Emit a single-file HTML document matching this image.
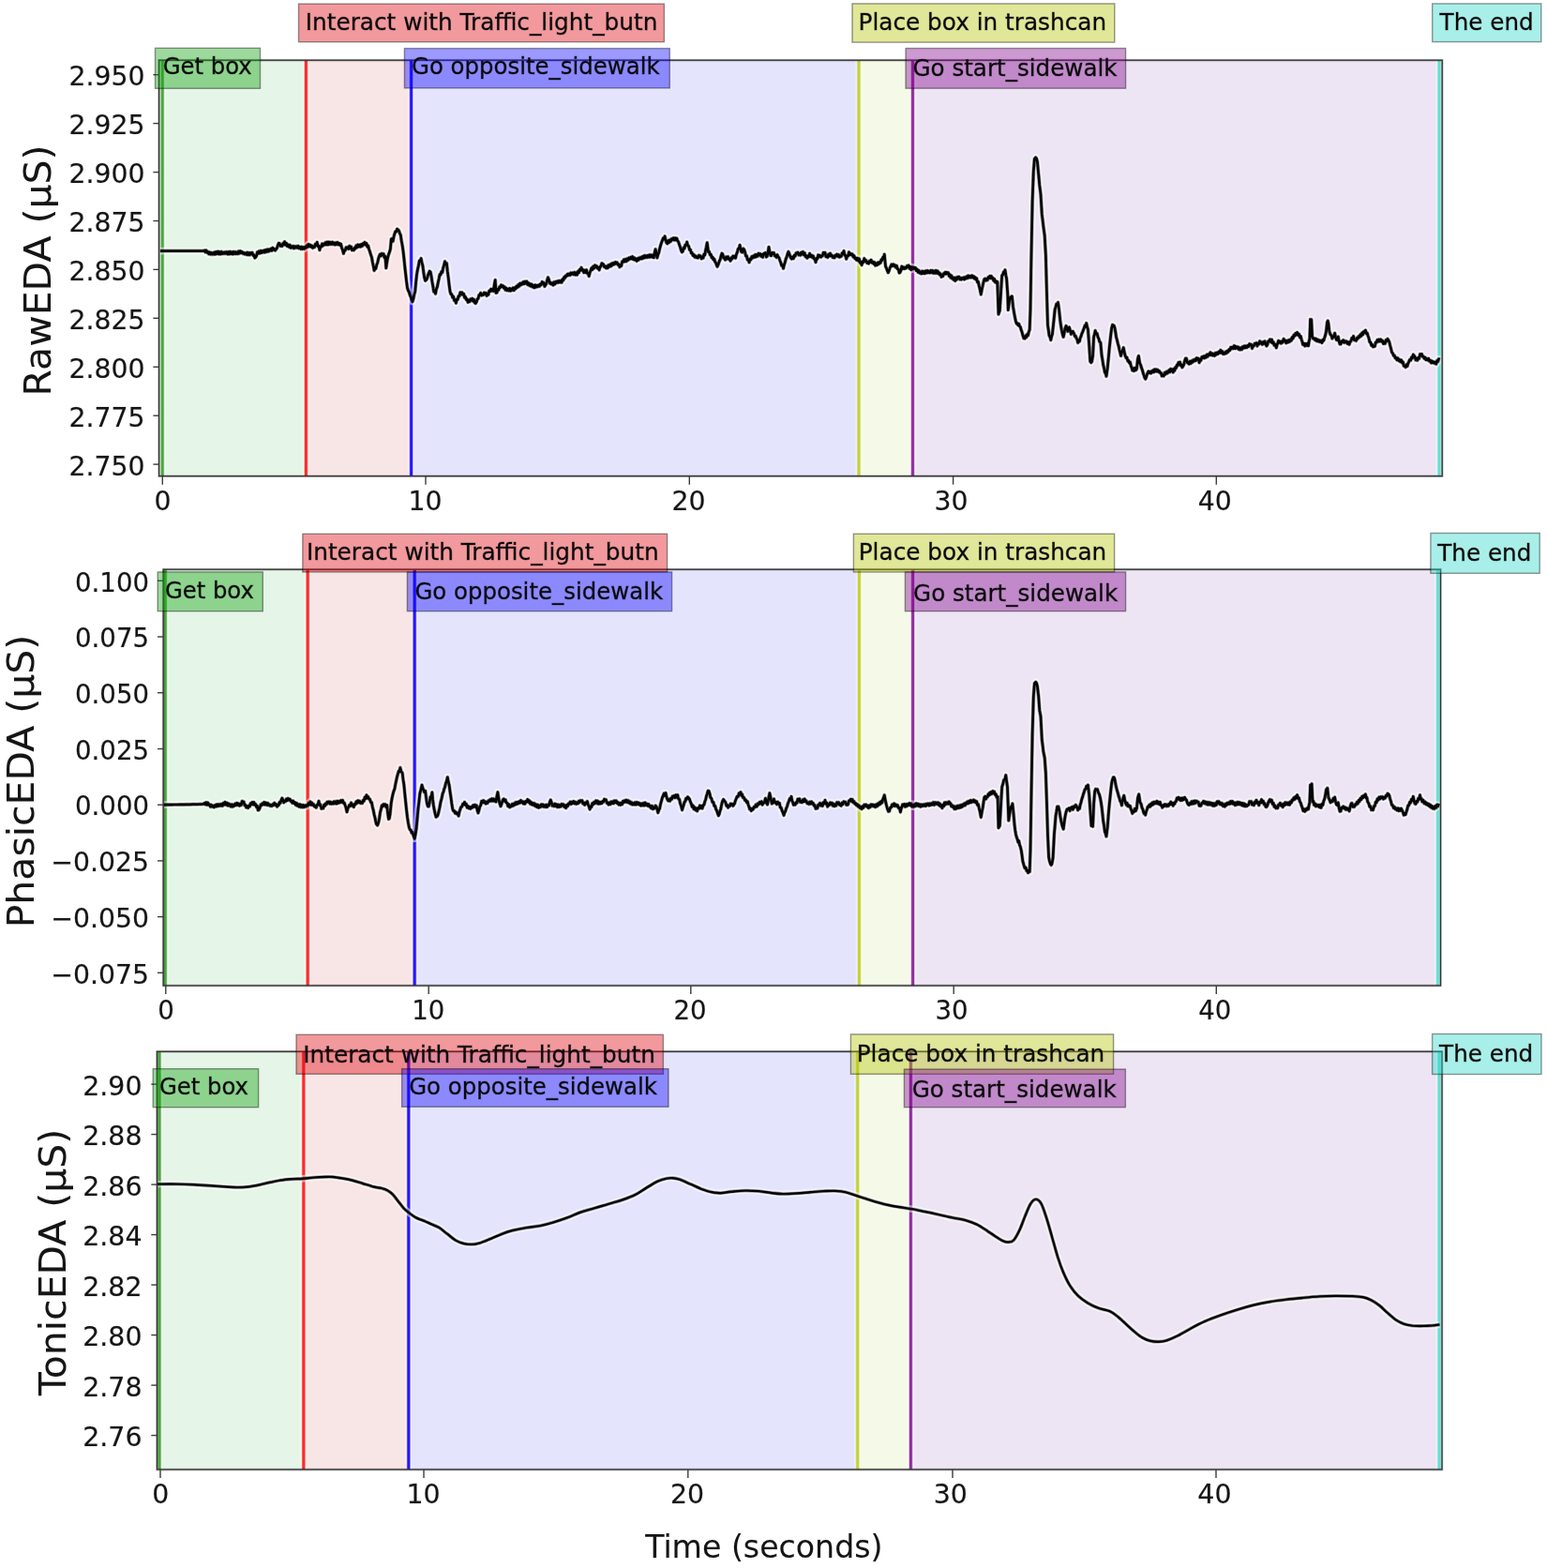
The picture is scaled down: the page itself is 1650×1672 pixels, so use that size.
<!DOCTYPE html>
<html lang="en"><head><meta charset="utf-8"><title>EDA signals</title>
<style>
html,body{margin:0;padding:0;background:#fff;}
body{width:1650px;height:1672px;overflow:hidden;}
svg{display:block;}
</style></head><body>
<svg width="1650" height="1672" viewBox="0 0 1650 1672" font-family='"DejaVu Sans","Liberation Sans",sans-serif'>
<defs>
<clipPath id="clip0"><rect x="169.6" y="64.2" width="1368.6" height="443.5"/></clipPath>
<clipPath id="clip1"><rect x="174.2" y="607.2" width="1362.3" height="443.8"/></clipPath>
<clipPath id="clip2"><rect x="167.5" y="1121.3" width="1370.5" height="445.7"/></clipPath>
</defs>
<rect width="1650" height="1672" fill="#fff"/>
<g fill="#000" stroke="none">
<g clip-path="url(#clip0)">
<rect x="173.2" y="64.2" width="153.2" height="443.5" fill="rgb(229,245,231)"/>
<rect x="326.4" y="64.2" width="112.2" height="443.5" fill="rgb(248,229,229)"/>
<rect x="438.6" y="64.2" width="477.4" height="443.5" fill="rgb(228,228,253)"/>
<rect x="916.0" y="64.2" width="57.5" height="443.5" fill="rgb(244,250,231)"/>
<rect x="973.5" y="64.2" width="561.5" height="443.5" fill="rgb(237,229,243)"/>
<line x1="173.2" y1="64.2" x2="173.2" y2="507.7" stroke="#fff" stroke-opacity="0.4" stroke-width="7.4"/>
<line x1="173.2" y1="64.2" x2="173.2" y2="507.7" stroke="rgb(74,168,62)" stroke-opacity="0.4" stroke-width="4.1"/>
<line x1="173.2" y1="64.2" x2="173.2" y2="507.7" stroke="rgb(74,168,62)" stroke-width="2.8"/>
<line x1="326.4" y1="64.2" x2="326.4" y2="507.7" stroke="#fff" stroke-opacity="0.4" stroke-width="7.4"/>
<line x1="326.4" y1="64.2" x2="326.4" y2="507.7" stroke="rgb(255,42,42)" stroke-opacity="0.4" stroke-width="4.1"/>
<line x1="326.4" y1="64.2" x2="326.4" y2="507.7" stroke="rgb(255,42,42)" stroke-width="2.8"/>
<line x1="438.6" y1="64.2" x2="438.6" y2="507.7" stroke="#fff" stroke-opacity="0.4" stroke-width="7.4"/>
<line x1="438.6" y1="64.2" x2="438.6" y2="507.7" stroke="rgb(38,22,255)" stroke-opacity="0.4" stroke-width="4.1"/>
<line x1="438.6" y1="64.2" x2="438.6" y2="507.7" stroke="rgb(38,22,255)" stroke-width="2.8"/>
<line x1="916.0" y1="64.2" x2="916.0" y2="507.7" stroke="#fff" stroke-opacity="0.4" stroke-width="7.4"/>
<line x1="916.0" y1="64.2" x2="916.0" y2="507.7" stroke="rgb(196,210,56)" stroke-opacity="0.4" stroke-width="4.1"/>
<line x1="916.0" y1="64.2" x2="916.0" y2="507.7" stroke="rgb(196,210,56)" stroke-width="2.8"/>
<line x1="973.5" y1="64.2" x2="973.5" y2="507.7" stroke="#fff" stroke-opacity="0.4" stroke-width="7.4"/>
<line x1="973.5" y1="64.2" x2="973.5" y2="507.7" stroke="rgb(146,44,160)" stroke-opacity="0.4" stroke-width="4.1"/>
<line x1="973.5" y1="64.2" x2="973.5" y2="507.7" stroke="rgb(146,44,160)" stroke-width="2.8"/>
<line x1="1535.0" y1="64.2" x2="1535.0" y2="507.7" stroke="#fff" stroke-opacity="0.4" stroke-width="7.4"/>
<line x1="1535.0" y1="64.2" x2="1535.0" y2="507.7" stroke="rgb(98,226,212)" stroke-opacity="0.4" stroke-width="4.1"/>
<line x1="1535.0" y1="64.2" x2="1535.0" y2="507.7" stroke="rgb(98,226,212)" stroke-width="2.8"/>
<defs><path id="cv0" d="M170.9,267.6 L171.8,267.6 L172.7,267.6 L173.6,267.6 L174.5,267.6 L175.4,267.6 L176.3,267.6 L177.1,267.6 L178.0,267.6 L178.9,267.6 L179.8,267.6 L180.7,267.6 L181.6,267.6 L182.5,267.6 L183.4,267.6 L184.3,267.6 L185.2,267.6 L186.1,267.6 L187.0,267.6 L187.9,267.6 L188.7,267.6 L189.6,267.6 L190.5,267.6 L191.4,267.6 L192.3,267.6 L193.2,267.6 L194.1,267.6 L195.0,267.6 L195.9,267.6 L196.8,267.6 L197.7,267.6 L198.6,267.6 L199.5,267.6 L200.4,267.6 L201.2,267.6 L202.1,267.6 L203.0,267.6 L203.9,267.6 L204.8,267.6 L205.7,267.6 L206.6,267.6 L207.5,267.6 L208.4,267.6 L209.3,267.6 L210.2,267.6 L211.1,267.6 L212.0,267.6 L212.8,267.6 L213.7,267.6 L214.6,267.6 L215.5,267.6 L216.4,267.6 L217.3,267.6 L218.2,267.0 L219.1,268.8 L220.0,267.0 L220.9,269.4 L221.8,268.4 L222.7,270.8 L223.6,268.9 L224.6,271.1 L225.5,269.5 L226.4,271.2 L227.3,269.6 L228.2,271.2 L229.1,268.8 L230.0,271.0 L230.9,268.5 L231.8,270.7 L232.7,268.2 L233.6,270.9 L234.5,268.6 L235.4,270.9 L236.4,268.4 L237.3,270.6 L238.2,269.2 L239.1,270.5 L240.0,268.8 L240.9,270.3 L241.8,268.6 L242.8,270.9 L243.7,268.6 L244.6,270.9 L245.5,268.3 L246.4,270.7 L247.3,268.8 L248.2,271.0 L249.1,268.5 L250.0,270.6 L250.9,268.6 L251.8,270.6 L252.7,268.9 L253.6,270.7 L254.6,267.9 L255.5,270.2 L256.4,267.7 L257.3,269.7 L258.2,268.5 L259.1,270.4 L260.0,269.4 L260.9,271.1 L261.8,269.9 L262.7,271.4 L263.6,269.2 L264.5,271.8 L265.5,269.6 L266.4,271.8 L267.3,269.6 L268.2,270.9 L269.1,269.4 L270.0,272.3 L270.9,272.0 L271.8,275.0 L272.7,274.3 L273.6,272.6 L274.5,268.8 L275.4,270.3 L276.3,267.9 L277.2,270.0 L278.2,267.4 L279.1,269.5 L280.0,267.5 L280.9,269.1 L281.8,267.0 L282.7,269.0 L283.6,266.5 L284.6,268.4 L285.5,265.9 L286.4,268.1 L287.3,266.0 L288.2,267.2 L289.1,265.1 L290.0,267.3 L290.9,264.2 L291.8,266.4 L292.7,265.4 L293.6,267.1 L294.5,265.7 L295.4,264.6 L296.4,261.4 L297.3,259.3 L298.2,259.6 L299.1,262.4 L300.0,261.5 L300.9,262.5 L301.8,259.6 L302.7,260.9 L303.6,257.7 L304.5,261.2 L305.5,259.4 L306.4,262.5 L307.3,260.9 L308.2,263.4 L309.1,261.2 L310.0,264.3 L310.9,262.7 L311.8,264.1 L312.7,262.4 L313.6,264.8 L314.5,262.7 L315.5,264.1 L316.4,262.6 L317.3,264.3 L318.2,262.4 L319.1,264.8 L320.0,263.3 L320.9,265.4 L321.8,263.2 L322.7,265.5 L323.6,263.7 L324.5,265.3 L325.4,263.3 L326.3,264.2 L327.3,261.8 L328.2,263.3 L329.1,260.5 L330.0,262.8 L330.9,261.2 L331.8,263.3 L332.7,262.0 L333.6,264.4 L334.5,262.9 L335.4,263.6 L336.4,260.2 L337.3,261.6 L338.2,258.4 L339.1,262.7 L340.0,262.2 L340.9,266.7 L341.8,262.8 L342.7,263.1 L343.6,260.0 L344.5,262.0 L345.4,259.9 L346.4,260.9 L347.3,258.6 L348.2,260.9 L349.1,258.1 L350.0,260.9 L350.9,258.1 L351.8,260.4 L352.7,258.4 L353.6,260.4 L354.6,258.2 L355.5,260.4 L356.4,258.9 L357.3,260.9 L358.2,258.8 L359.1,260.6 L360.0,258.5 L360.9,260.8 L361.8,259.4 L362.7,261.4 L363.6,260.1 L364.5,264.2 L365.5,266.7 L366.4,270.3 L367.3,266.8 L368.2,267.1 L369.1,263.8 L370.0,264.9 L370.9,263.6 L371.8,265.5 L372.7,262.3 L373.6,264.8 L374.5,263.2 L375.5,266.8 L376.4,266.0 L377.3,266.9 L378.2,264.2 L379.1,265.0 L380.0,261.9 L380.9,263.8 L381.8,261.0 L382.8,263.0 L383.7,261.1 L384.6,263.1 L385.5,260.5 L386.4,262.3 L387.3,259.6 L388.2,260.9 L389.1,258.4 L390.0,261.0 L390.9,259.5 L391.8,263.3 L392.7,262.0 L393.6,265.9 L394.5,268.3 L395.5,271.7 L396.4,274.1 L397.3,279.3 L398.2,283.5 L399.1,288.5 L400.0,285.6 L400.9,286.4 L401.8,282.2 L402.7,280.2 L403.6,276.0 L404.5,273.0 L405.4,271.2 L406.4,272.9 L407.3,270.4 L408.2,271.8 L409.1,270.7 L410.0,274.6 L410.9,273.3 L411.8,285.8 L412.7,279.7 L413.6,274.6 L414.5,271.3 L415.5,268.8 L416.4,265.3 L417.3,254.9 L418.2,254.3 L419.1,257.3 L420.0,252.5 L420.9,249.2 L421.8,246.8 L422.7,247.0 L423.6,244.2 L424.5,245.0 L425.4,245.9 L426.4,248.8 L427.3,250.6 L428.2,256.7 L429.1,261.5 L430.0,267.6 L430.9,275.5 L431.8,284.5 L432.7,292.5 L433.6,300.3 L434.5,307.1 L435.4,309.9 L436.4,311.7 L437.3,314.8 L438.2,316.6 L439.1,319.6 L440.0,321.6 L440.9,318.5 L441.8,314.2 L442.7,311.0 L443.6,301.4 L444.5,292.9 L445.4,287.6 L446.4,283.3 L447.3,278.0 L448.2,278.6 L449.1,275.6 L450.0,280.1 L450.9,283.4 L451.8,290.4 L452.7,296.2 L453.6,299.3 L454.5,298.6 L455.4,297.2 L456.4,293.7 L457.3,291.2 L458.2,289.2 L459.1,290.0 L460.0,294.2 L460.9,300.3 L461.8,305.2 L462.7,311.1 L463.6,309.9 L464.5,313.2 L465.4,308.3 L466.4,305.8 L467.3,301.0 L468.2,297.1 L469.1,292.5 L470.0,292.9 L470.9,289.6 L471.8,290.5 L472.7,285.5 L473.6,282.8 L474.5,278.8 L475.4,281.7 L476.4,280.7 L477.3,289.4 L478.2,296.1 L479.1,304.0 L480.0,310.6 L480.9,313.6 L481.8,313.9 L482.7,317.2 L483.6,316.2 L484.5,320.4 L485.4,319.8 L486.4,323.1 L487.3,319.0 L488.2,319.3 L489.1,315.7 L490.0,315.8 L490.9,311.9 L491.8,313.9 L492.7,311.8 L493.6,314.2 L494.6,313.3 L495.5,317.3 L496.4,316.5 L497.3,319.5 L498.2,319.0 L499.1,322.3 L500.0,320.4 L500.9,321.7 L501.8,319.0 L502.7,320.1 L503.6,318.3 L504.6,321.2 L505.5,319.4 L506.4,323.0 L507.3,323.4 L508.2,322.0 L509.1,318.9 L510.0,318.5 L510.9,314.7 L511.8,314.2 L512.7,312.4 L513.6,315.0 L514.5,313.9 L515.4,314.5 L516.4,312.1 L517.3,313.6 L518.2,312.4 L519.1,315.4 L520.0,313.1 L520.9,314.2 L521.8,310.1 L522.7,310.7 L523.6,308.3 L524.5,310.1 L525.5,308.2 L526.4,310.5 L527.3,303.3 L528.2,298.5 L529.1,312.3 L530.0,312.0 L530.9,308.4 L531.8,309.3 L532.7,306.0 L533.6,306.5 L534.5,304.0 L535.5,305.5 L536.4,304.6 L537.3,307.1 L538.2,305.9 L539.1,309.1 L540.0,307.2 L540.9,309.7 L541.8,308.1 L542.7,309.9 L543.6,307.5 L544.5,310.2 L545.5,308.0 L546.4,309.3 L547.3,306.9 L548.2,309.6 L549.1,306.7 L550.0,307.9 L550.9,305.2 L551.8,306.5 L552.7,303.7 L553.6,305.4 L554.6,302.2 L555.5,303.9 L556.4,301.8 L557.3,302.9 L558.2,300.6 L559.1,302.7 L560.0,300.2 L560.9,302.2 L561.8,300.1 L562.7,303.5 L563.6,301.6 L564.5,304.4 L565.4,302.6 L566.3,305.3 L567.2,303.2 L568.2,306.1 L569.1,304.4 L570.0,306.8 L570.9,304.0 L571.8,306.2 L572.8,304.3 L573.7,305.7 L574.6,304.0 L575.5,305.2 L576.4,302.8 L577.3,303.7 L578.2,300.5 L579.1,302.0 L580.0,301.6 L580.9,305.4 L581.8,304.0 L582.7,302.5 L583.6,298.6 L584.5,295.8 L585.5,298.5 L586.4,302.1 L587.3,301.3 L588.2,303.0 L589.1,301.9 L590.0,304.0 L590.9,300.9 L591.8,303.1 L592.7,300.3 L593.6,301.6 L594.5,299.8 L595.4,301.3 L596.4,299.4 L597.3,301.0 L598.2,299.4 L599.1,301.2 L600.0,297.7 L600.9,298.8 L601.8,295.4 L602.7,296.3 L603.6,293.8 L604.5,294.3 L605.4,292.2 L606.3,293.5 L607.2,291.8 L608.2,293.4 L609.1,290.9 L610.0,292.3 L610.9,290.9 L611.8,292.7 L612.8,290.4 L613.7,293.0 L614.6,290.8 L615.5,293.1 L616.4,289.4 L617.3,290.9 L618.2,287.5 L619.1,288.3 L620.0,285.3 L620.9,288.1 L621.8,287.6 L622.7,290.6 L623.6,288.2 L624.6,290.5 L625.5,287.8 L626.4,291.5 L627.3,291.4 L628.2,294.5 L629.1,290.7 L630.0,288.4 L630.9,285.9 L631.8,287.5 L632.7,284.1 L633.6,286.1 L634.6,282.9 L635.5,284.9 L636.4,283.8 L637.3,286.0 L638.2,285.5 L639.1,287.9 L640.0,284.3 L640.9,284.2 L641.8,280.8 L642.7,281.3 L643.6,281.9 L644.5,284.6 L645.4,283.9 L646.4,285.9 L647.3,283.9 L648.2,285.8 L649.1,282.7 L650.0,284.3 L650.9,282.0 L651.8,283.8 L652.7,280.9 L653.6,282.6 L654.5,280.4 L655.5,281.7 L656.4,279.5 L657.3,281.2 L658.2,279.9 L659.1,282.3 L660.0,281.9 L660.9,284.8 L661.8,283.0 L662.7,283.5 L663.6,278.9 L664.5,279.4 L665.4,276.8 L666.4,278.9 L667.3,276.4 L668.2,278.7 L669.1,275.9 L670.0,277.3 L670.9,275.0 L671.8,276.2 L672.7,274.3 L673.6,275.9 L674.5,273.6 L675.4,276.7 L676.4,274.8 L677.3,277.2 L678.2,275.8 L679.1,278.4 L680.0,275.7 L680.9,277.3 L681.8,274.9 L682.7,276.1 L683.6,274.3 L684.5,275.9 L685.4,273.5 L686.3,275.3 L687.2,272.6 L688.2,274.6 L689.1,272.7 L690.0,274.5 L690.9,272.5 L691.8,274.2 L692.7,271.8 L693.6,274.1 L694.5,271.8 L695.5,274.0 L696.4,272.1 L697.3,274.7 L698.2,269.4 L699.1,265.8 L700.0,269.9 L700.9,274.9 L701.8,271.6 L702.7,269.4 L703.6,265.3 L704.5,261.9 L705.5,258.8 L706.4,256.6 L707.3,254.0 L708.2,255.1 L709.1,252.0 L710.0,256.2 L710.9,258.9 L711.8,259.8 L712.7,256.6 L713.6,258.6 L714.5,255.8 L715.5,257.3 L716.4,254.6 L717.3,255.6 L718.2,253.8 L719.1,255.9 L720.0,253.8 L720.9,255.8 L721.8,254.1 L722.7,256.9 L723.6,257.9 L724.6,261.0 L725.5,263.4 L726.4,266.7 L727.3,268.8 L728.2,268.1 L729.1,264.2 L730.0,264.9 L730.9,261.0 L731.8,261.1 L732.7,258.1 L733.6,262.0 L734.6,262.5 L735.5,266.4 L736.4,266.2 L737.3,269.9 L738.2,269.7 L739.1,272.5 L740.0,271.5 L740.9,274.1 L741.8,272.8 L742.7,274.7 L743.6,273.8 L744.5,275.0 L745.5,272.2 L746.4,273.7 L747.3,273.0 L748.2,275.9 L749.1,274.2 L750.0,275.1 L750.9,271.1 L751.8,271.8 L752.6,266.8 L753.4,263.3 L754.2,258.8 L755.5,268.5 L756.4,268.3 L757.3,271.6 L758.2,271.3 L759.1,274.6 L760.0,274.1 L760.9,276.9 L761.8,276.1 L762.7,279.3 L763.5,280.1 L764.3,282.6 L765.1,284.3 L766.1,282.0 L767.2,278.7 L768.2,276.7 L769.1,272.8 L770.0,270.2 L770.9,271.3 L771.8,275.1 L772.7,275.7 L773.6,277.1 L774.5,274.0 L775.5,275.9 L776.4,273.7 L777.3,276.3 L778.2,275.8 L779.1,278.2 L780.0,274.8 L780.9,276.0 L781.8,273.1 L782.7,274.5 L783.6,273.1 L784.5,275.2 L785.4,271.2 L786.4,268.9 L787.3,265.2 L788.2,265.3 L789.1,261.4 L790.0,266.1 L790.9,268.7 L791.8,269.0 L792.7,265.1 L793.6,265.9 L794.5,268.4 L795.5,273.0 L796.4,272.8 L797.3,277.0 L798.2,276.6 L799.1,279.8 L800.0,276.1 L800.9,276.9 L801.8,273.6 L802.7,275.0 L803.6,272.8 L804.6,274.3 L805.5,271.6 L806.4,273.9 L807.3,271.5 L808.2,273.2 L809.1,270.2 L810.0,271.9 L810.9,270.7 L811.8,273.3 L812.7,271.5 L813.6,274.3 L814.5,270.5 L815.5,270.1 L816.4,269.5 L817.3,274.0 L818.2,273.2 L819.1,269.2 L820.0,263.4 L820.9,268.5 L821.8,272.5 L822.7,272.6 L823.6,269.5 L824.5,269.9 L825.4,269.6 L826.4,272.9 L827.3,272.4 L828.2,274.4 L829.1,271.7 L830.0,273.9 L830.9,274.9 L831.8,277.7 L832.7,279.8 L833.6,283.1 L834.6,282.7 L835.5,286.2 L836.4,282.2 L837.3,279.7 L838.2,276.1 L839.1,274.0 L840.0,270.8 L840.9,268.4 L841.8,270.5 L842.7,273.2 L843.6,275.1 L844.5,276.1 L845.5,273.8 L846.4,275.6 L847.3,272.2 L848.2,273.0 L849.1,269.8 L850.0,270.2 L850.9,269.1 L851.8,271.9 L852.7,270.4 L853.6,272.2 L854.5,269.2 L855.5,271.2 L856.4,268.5 L857.3,271.7 L858.2,269.8 L859.1,273.7 L860.0,272.8 L860.9,275.2 L861.8,272.9 L862.7,273.7 L863.6,270.4 L864.5,273.6 L865.5,272.2 L866.4,274.4 L867.3,272.9 L868.2,276.0 L869.1,275.9 L870.0,279.6 L870.9,275.4 L871.8,276.0 L872.7,271.9 L873.6,273.8 L874.5,272.4 L875.5,274.2 L876.4,272.9 L877.3,272.9 L878.2,269.4 L879.1,270.1 L880.0,269.4 L880.9,273.7 L881.8,273.3 L882.7,274.4 L883.6,271.2 L884.6,273.0 L885.5,270.2 L886.4,272.9 L887.3,272.1 L888.2,274.5 L889.1,273.5 L890.0,274.9 L890.9,272.2 L891.8,273.1 L892.7,271.2 L893.6,273.4 L894.5,271.6 L895.5,274.2 L896.4,273.0 L897.3,273.3 L898.2,269.9 L899.1,271.0 L900.0,267.6 L900.9,272.1 L901.8,272.4 L902.7,276.1 L903.6,272.9 L904.6,273.0 L905.5,268.9 L906.4,271.7 L907.3,270.3 L908.2,271.9 L909.1,270.9 L910.0,273.9 L910.9,272.6 L911.8,275.7 L912.7,275.0 L913.6,277.3 L914.5,275.3 L915.5,278.0 L916.4,275.9 L917.3,280.1 L918.2,279.7 L919.1,282.6 L920.0,278.9 L920.9,279.6 L921.8,275.6 L922.7,278.3 L923.6,277.4 L924.6,280.4 L925.5,279.6 L926.4,281.0 L927.3,278.4 L928.2,279.7 L929.1,277.2 L930.0,280.1 L930.9,279.1 L931.8,281.3 L932.7,279.7 L933.6,283.1 L934.5,280.9 L935.4,282.7 L936.4,280.0 L937.3,281.6 L938.2,279.5 L939.1,280.4 L940.0,276.8 L940.9,277.4 L941.7,274.4 L942.5,275.2 L943.3,271.2 L944.5,283.9 L945.4,285.9 L946.4,288.7 L947.3,290.7 L948.2,288.8 L949.1,285.8 L950.0,284.0 L950.9,282.0 L951.8,283.7 L952.7,281.8 L953.6,283.5 L954.5,282.7 L955.5,285.2 L956.4,283.4 L957.3,286.8 L958.2,287.0 L959.1,290.9 L960.0,290.6 L960.9,288.4 L961.8,284.1 L962.7,286.5 L963.6,284.8 L964.6,286.6 L965.5,285.4 L966.4,286.0 L967.3,283.6 L968.2,284.5 L969.1,283.0 L970.0,286.3 L970.9,284.5 L971.8,287.6 L972.7,284.8 L973.6,286.8 L974.6,285.1 L975.5,286.4 L976.4,285.5 L977.3,288.5 L978.2,287.2 L979.1,290.3 L980.0,288.4 L980.9,291.2 L981.8,290.0 L982.7,291.8 L983.6,289.1 L984.5,291.5 L985.5,289.5 L986.4,291.6 L987.3,288.9 L988.2,291.0 L989.1,288.6 L990.0,290.8 L990.9,289.1 L991.8,290.9 L992.7,288.5 L993.6,290.6 L994.6,288.5 L995.5,291.3 L996.4,289.1 L997.3,291.3 L998.2,288.5 L999.1,291.3 L1000.0,288.9 L1000.8,291.8 L1001.7,290.8 L1002.5,293.0 L1003.3,292.1 L1004.1,295.3 L1004.9,293.8 L1005.7,294.5 L1006.6,291.6 L1007.4,292.1 L1008.2,290.3 L1009.0,292.1 L1009.8,290.5 L1010.6,291.7 L1011.4,290.8 L1012.3,294.3 L1013.1,292.8 L1013.9,296.0 L1014.8,293.9 L1015.6,297.1 L1016.4,295.8 L1017.2,298.4 L1018.0,296.1 L1018.8,299.5 L1019.6,296.2 L1020.5,298.0 L1021.3,295.4 L1022.1,296.4 L1022.9,295.1 L1023.7,297.9 L1024.5,296.7 L1025.3,298.1 L1026.1,296.4 L1027.0,297.4 L1027.8,296.0 L1028.6,297.9 L1029.4,295.6 L1030.2,297.1 L1031.1,294.8 L1031.9,296.6 L1032.7,294.0 L1033.7,296.0 L1034.6,294.3 L1035.6,295.9 L1036.6,293.8 L1037.5,295.9 L1038.5,294.6 L1039.3,297.0 L1040.1,295.7 L1040.9,298.0 L1041.7,296.9 L1042.5,300.9 L1043.4,300.5 L1044.2,304.6 L1045.2,308.6 L1046.3,314.0 L1047.1,309.4 L1047.9,305.8 L1048.9,301.2 L1049.9,297.6 L1050.7,297.2 L1051.6,299.1 L1052.4,297.7 L1053.2,298.7 L1054.0,295.7 L1054.8,296.1 L1055.6,294.5 L1056.4,296.7 L1057.3,294.4 L1058.1,296.9 L1058.9,296.3 L1059.8,299.3 L1060.6,297.5 L1061.4,300.9 L1062.2,299.7 L1063.0,301.9 L1063.8,300.5 L1065.0,335.1 L1066.3,331.2 L1067.4,313.9 L1068.7,293.7 L1069.6,293.1 L1070.4,290.0 L1071.2,291.3 L1072.0,287.9 L1072.8,293.3 L1073.6,297.1 L1074.8,313.9 L1075.3,330.6 L1076.6,320.5 L1077.7,316.9 L1078.6,318.1 L1079.4,315.9 L1080.5,326.9 L1081.8,334.6 L1082.7,339.3 L1083.5,342.9 L1084.3,345.0 L1085.1,344.7 L1085.9,346.7 L1086.7,345.3 L1087.5,348.0 L1088.3,348.6 L1089.2,352.0 L1090.0,354.0 L1090.8,357.2 L1092.0,360.8 L1093.0,361.0 L1094.1,357.8 L1094.9,359.5 L1095.7,356.5 L1096.5,357.6 L1097.3,353.9 L1098.2,351.5 L1099.0,329.8 L1099.8,281.2 L1101.1,215.3 L1102.3,182.9 L1103.4,169.4 L1104.7,167.9 L1105.6,169.3 L1106.4,172.4 L1107.7,185.8 L1108.8,197.7 L1110.0,207.1 L1111.3,228.7 L1112.1,234.9 L1112.9,241.8 L1114.2,251.2 L1115.4,272.8 L1116.5,313.5 L1117.5,346.7 L1118.3,352.0 L1119.1,358.1 L1119.9,359.1 L1120.8,362.6 L1121.6,358.7 L1122.4,356.3 L1123.5,346.1 L1124.3,338.5 L1125.2,329.7 L1126.0,327.4 L1126.8,324.1 L1127.7,324.7 L1128.5,322.5 L1129.6,330.3 L1130.9,342.9 L1131.7,348.2 L1132.5,352.7 L1133.3,356.5 L1134.2,359.3 L1135.0,355.7 L1135.8,350.9 L1137.1,347.5 L1137.9,349.9 L1138.8,353.3 L1139.6,350.6 L1140.4,349.0 L1141.4,352.2 L1142.4,356.4 L1143.3,353.7 L1144.3,353.4 L1145.4,355.4 L1146.5,358.7 L1147.3,358.4 L1148.1,360.8 L1148.9,362.0 L1149.7,365.5 L1150.6,363.2 L1151.4,364.0 L1152.2,360.3 L1153.0,358.6 L1153.8,355.9 L1154.6,354.2 L1155.5,351.7 L1156.3,349.8 L1157.1,347.1 L1157.9,348.3 L1158.7,344.6 L1159.6,348.6 L1160.4,351.2 L1161.7,367.9 L1162.8,385.3 L1163.7,386.6 L1164.5,385.8 L1165.6,379.3 L1166.6,359.2 L1167.4,356.5 L1168.2,352.5 L1169.2,356.0 L1170.2,355.7 L1171.0,359.4 L1171.8,360.8 L1172.8,364.5 L1173.8,365.2 L1175.1,379.3 L1175.9,383.7 L1176.7,389.2 L1177.6,392.7 L1178.4,397.3 L1179.2,397.7 L1180.0,401.3 L1181.3,392.0 L1182.5,379.5 L1183.3,370.5 L1184.1,363.0 L1184.9,355.8 L1185.7,349.8 L1186.6,346.4 L1187.4,346.8 L1188.2,347.4 L1189.0,349.8 L1189.8,354.3 L1190.6,359.7 L1191.4,362.4 L1192.3,366.3 L1193.1,369.0 L1193.9,372.8 L1194.7,375.7 L1195.5,379.4 L1196.3,376.3 L1197.2,374.4 L1198.3,370.7 L1199.2,375.3 L1200.0,378.9 L1201.0,381.6 L1201.9,381.1 L1202.9,385.0 L1203.7,384.5 L1204.6,387.0 L1205.4,386.2 L1206.2,390.0 L1207.0,391.9 L1207.8,394.9 L1208.6,392.9 L1209.5,395.5 L1210.3,392.4 L1211.3,394.8 L1212.4,393.4 L1213.5,382.7 L1214.4,379.5 L1215.7,387.4 L1216.7,389.4 L1217.6,392.5 L1218.4,394.6 L1219.3,398.0 L1220.1,400.2 L1220.9,402.8 L1221.7,404.2 L1222.5,402.4 L1223.4,399.3 L1224.2,397.4 L1225.0,396.0 L1225.8,397.7 L1226.7,396.4 L1227.5,398.0 L1228.3,395.8 L1229.1,396.9 L1229.9,394.8 L1230.7,396.8 L1231.5,394.0 L1232.3,395.9 L1233.2,393.9 L1234.0,396.0 L1234.8,394.4 L1235.7,396.6 L1236.5,395.5 L1237.3,397.6 L1238.3,397.5 L1239.2,400.9 L1240.2,400.1 L1241.1,401.0 L1242.1,397.5 L1243.0,399.1 L1243.8,396.6 L1244.7,398.2 L1245.5,395.9 L1246.3,397.2 L1247.1,394.6 L1247.9,396.7 L1248.7,393.4 L1249.5,395.6 L1250.4,394.0 L1251.2,397.0 L1252.0,393.3 L1252.8,395.3 L1253.6,391.7 L1254.4,392.5 L1255.3,389.2 L1256.1,389.9 L1256.9,386.6 L1257.7,387.0 L1258.5,386.1 L1259.2,389.7 L1260.0,388.7 L1260.9,391.8 L1261.8,390.5 L1262.7,388.6 L1263.6,384.9 L1264.5,382.2 L1265.4,382.2 L1266.4,386.8 L1267.3,386.4 L1268.2,388.2 L1269.1,385.3 L1270.0,387.6 L1270.9,384.8 L1271.8,386.3 L1272.7,383.9 L1273.6,385.1 L1274.5,383.1 L1275.4,384.5 L1276.4,381.7 L1277.3,383.1 L1278.2,382.3 L1279.1,386.7 L1280.0,383.0 L1280.9,384.4 L1281.8,380.7 L1282.7,381.5 L1283.6,379.9 L1284.6,381.9 L1285.5,379.5 L1286.4,381.0 L1287.3,378.1 L1288.2,380.1 L1289.1,377.7 L1290.0,378.4 L1290.9,375.8 L1291.8,378.6 L1292.7,376.8 L1293.7,379.0 L1294.6,377.4 L1295.5,379.3 L1296.4,376.4 L1297.3,378.1 L1298.2,376.0 L1299.1,377.3 L1300.0,375.1 L1300.9,376.2 L1301.8,373.4 L1302.7,376.3 L1303.7,374.7 L1304.6,377.5 L1305.5,376.3 L1306.4,377.3 L1307.3,375.1 L1308.2,376.6 L1309.1,374.2 L1310.0,375.3 L1310.9,372.7 L1311.8,373.5 L1312.7,370.3 L1313.6,371.9 L1314.6,370.1 L1315.5,371.6 L1316.4,368.6 L1317.3,371.6 L1318.2,369.5 L1319.1,371.2 L1320.0,369.8 L1320.9,372.4 L1321.8,370.6 L1322.7,372.9 L1323.6,371.0 L1324.5,372.7 L1325.4,369.7 L1326.4,371.2 L1327.3,368.9 L1328.2,370.8 L1329.1,368.9 L1330.0,370.5 L1330.9,368.5 L1331.8,369.5 L1332.7,366.7 L1333.6,367.5 L1334.5,367.3 L1335.5,371.5 L1336.4,369.0 L1337.3,368.9 L1338.2,366.3 L1339.1,366.4 L1340.0,365.7 L1340.9,369.0 L1341.8,366.1 L1342.7,367.1 L1343.6,363.8 L1344.5,366.1 L1345.5,364.9 L1346.4,367.3 L1347.3,364.6 L1348.2,366.4 L1349.1,363.9 L1350.0,367.0 L1350.9,368.9 L1351.8,367.5 L1352.7,363.9 L1353.6,363.7 L1354.5,362.0 L1355.5,364.8 L1356.4,362.1 L1357.3,365.9 L1358.2,364.8 L1359.1,368.1 L1360.2,367.2 L1361.3,370.8 L1362.1,367.7 L1362.8,366.0 L1363.6,363.3 L1364.5,365.3 L1365.5,364.2 L1366.4,366.1 L1367.3,364.0 L1368.2,365.0 L1369.1,361.4 L1370.0,363.9 L1370.9,363.0 L1371.8,365.8 L1372.7,363.4 L1373.7,365.1 L1374.6,362.6 L1375.5,364.4 L1376.4,362.0 L1377.3,363.1 L1378.2,359.6 L1379.1,360.8 L1380.0,357.2 L1380.9,358.3 L1381.8,355.5 L1382.7,356.9 L1383.6,354.5 L1384.5,357.3 L1385.5,356.2 L1386.4,359.7 L1387.3,358.5 L1388.2,362.4 L1388.9,364.3 L1389.6,367.4 L1390.7,366.3 L1391.8,368.9 L1392.7,366.5 L1393.7,368.4 L1394.6,366.2 L1395.5,368.7 L1396.2,363.9 L1396.9,361.1 L1397.6,340.6 L1398.7,340.8 L1399.6,358.9 L1400.7,361.1 L1401.8,360.8 L1402.7,362.7 L1403.6,361.2 L1404.5,363.7 L1405.4,362.1 L1406.4,364.1 L1407.3,362.9 L1408.2,364.7 L1409.1,363.3 L1410.0,365.5 L1410.9,362.4 L1411.8,363.1 L1412.7,360.1 L1413.6,357.5 L1414.5,353.4 L1415.5,343.7 L1416.2,342.1 L1416.9,344.7 L1417.8,353.3 L1418.9,356.5 L1420.0,357.6 L1420.9,361.0 L1421.8,359.6 L1422.7,358.5 L1423.6,355.3 L1424.5,359.3 L1425.5,362.5 L1426.4,362.7 L1427.3,359.0 L1428.2,364.0 L1429.1,367.0 L1430.0,367.0 L1430.9,364.0 L1431.8,364.9 L1432.7,362.7 L1433.7,365.3 L1434.6,363.6 L1435.5,365.2 L1436.4,364.0 L1437.3,366.5 L1438.2,365.0 L1439.1,367.3 L1440.0,364.2 L1440.9,363.9 L1441.8,360.5 L1442.7,361.6 L1443.6,358.5 L1444.5,362.7 L1445.5,362.6 L1446.4,363.3 L1447.3,360.4 L1448.2,361.1 L1449.1,358.7 L1450.0,359.6 L1450.9,356.8 L1451.8,358.3 L1452.7,355.0 L1453.6,356.8 L1454.5,353.6 L1455.5,354.7 L1456.4,352.2 L1457.3,355.6 L1458.2,355.1 L1459.1,358.1 L1460.0,360.6 L1460.9,364.8 L1461.8,364.9 L1462.7,368.3 L1463.6,367.5 L1464.5,369.8 L1465.5,369.4 L1466.4,369.3 L1467.3,365.0 L1468.2,365.1 L1469.1,362.5 L1470.0,364.2 L1470.9,362.0 L1471.8,363.9 L1472.7,362.0 L1473.6,364.2 L1474.5,363.2 L1475.5,366.5 L1476.4,364.9 L1477.3,366.4 L1478.2,362.6 L1479.1,363.7 L1480.0,361.4 L1480.9,362.9 L1481.8,364.7 L1482.7,368.5 L1483.6,371.7 L1484.5,375.8 L1485.4,376.5 L1486.4,379.2 L1487.3,379.0 L1488.2,381.8 L1489.1,381.3 L1490.0,383.8 L1490.9,381.9 L1491.8,384.6 L1492.7,383.3 L1493.6,385.7 L1494.6,384.0 L1495.5,386.9 L1496.4,385.9 L1497.3,390.2 L1498.2,390.0 L1499.1,391.6 L1500.0,389.0 L1500.9,390.6 L1501.8,387.5 L1502.7,385.8 L1503.6,383.6 L1504.6,384.2 L1505.5,381.0 L1506.4,382.0 L1507.3,378.1 L1508.2,379.2 L1509.1,380.6 L1510.0,383.9 L1510.9,382.1 L1511.8,384.2 L1512.7,381.5 L1513.6,382.3 L1514.6,377.6 L1515.5,378.8 L1516.4,377.5 L1517.3,380.2 L1518.2,380.0 L1519.1,382.1 L1520.0,381.1 L1520.9,383.7 L1521.8,382.5 L1522.7,383.9 L1523.6,382.3 L1524.5,385.1 L1525.5,384.1 L1526.4,386.9 L1527.3,385.0 L1528.2,386.8 L1529.1,385.8 L1530.0,387.3 L1530.9,386.3 L1531.8,388.1 L1532.7,384.6 L1533.6,385.5 L1534.5,382.8 L1535.8,383.2"/></defs>
<g fill="none" stroke-linejoin="round">
<use href="#cv0" stroke="#fff" stroke-opacity="0.5" stroke-width="7.7"/>
<use href="#cv0" stroke="#161916" stroke-opacity="0.4" stroke-width="4.0"/>
<use href="#cv0" stroke="#050505" stroke-opacity="1" stroke-width="2.7"/>
</g>
</g>
<rect x="169.6" y="64.2" width="1368.6" height="443.5" fill="none" stroke="#222" stroke-opacity="0.3" stroke-width="2.6"/>
<rect x="169.6" y="64.2" width="1368.6" height="443.5" fill="none" stroke="#333" stroke-width="1.3"/>
<g stroke="#3c3c3c" stroke-width="1.4">
<line x1="173.3" y1="507.7" x2="173.3" y2="516.7"/>
<line x1="454.0" y1="507.7" x2="454.0" y2="516.7"/>
<line x1="735.3" y1="507.7" x2="735.3" y2="516.7"/>
<line x1="1016.6" y1="507.7" x2="1016.6" y2="516.7"/>
<line x1="1297.3" y1="507.7" x2="1297.3" y2="516.7"/>
<line x1="163.4" y1="79.7" x2="169.6" y2="79.7"/>
<line x1="163.4" y1="131.6" x2="169.6" y2="131.6"/>
<line x1="163.4" y1="183.6" x2="169.6" y2="183.6"/>
<line x1="163.4" y1="235.5" x2="169.6" y2="235.5"/>
<line x1="163.4" y1="287.4" x2="169.6" y2="287.4"/>
<line x1="163.4" y1="339.3" x2="169.6" y2="339.3"/>
<line x1="163.4" y1="391.3" x2="169.6" y2="391.3"/>
<line x1="163.4" y1="443.2" x2="169.6" y2="443.2"/>
<line x1="163.4" y1="495.1" x2="169.6" y2="495.1"/>
</g>
<g fill="#151515" stroke="#000" stroke-opacity="0.3" stroke-width="0.60">
<text transform="translate(173.5,543.5)" font-size="28.3" text-anchor="middle">0</text>
<text transform="translate(453.5,543.5)" font-size="28.3" text-anchor="middle">10</text>
<text transform="translate(734.5,543.5)" font-size="28.3" text-anchor="middle">20</text>
<text transform="translate(1014.4,543.5)" font-size="28.3" text-anchor="middle">30</text>
<text transform="translate(1295.7,543.5)" font-size="28.3" text-anchor="middle">40</text>
<text transform="translate(154.4,91.1)" font-size="28.3" text-anchor="end">2.950</text>
<text transform="translate(154.4,143.1)" font-size="28.3" text-anchor="end">2.925</text>
<text transform="translate(154.4,195.0)" font-size="28.3" text-anchor="end">2.900</text>
<text transform="translate(154.4,246.9)" font-size="28.3" text-anchor="end">2.875</text>
<text transform="translate(154.4,298.8)" font-size="28.3" text-anchor="end">2.850</text>
<text transform="translate(154.4,350.8)" font-size="28.3" text-anchor="end">2.825</text>
<text transform="translate(154.4,402.7)" font-size="28.3" text-anchor="end">2.800</text>
<text transform="translate(154.4,454.6)" font-size="28.3" text-anchor="end">2.775</text>
<text transform="translate(154.4,506.6)" font-size="28.3" text-anchor="end">2.750</text>
</g>
<g fill="#151515" stroke="#000" stroke-opacity="0.3" stroke-width="0.2">
<text transform="translate(53.8,288.5) rotate(-90) scale(1.045,1)" font-size="39.2" text-anchor="middle">RawEDA (µS)</text>
</g>
<rect x="165.5" y="51.3" width="112.0" height="43.0" fill="rgb(10,160,10)" fill-opacity="0.4" stroke="#000" stroke-opacity="0.4" stroke-width="1.4"/>
<rect x="318.5" y="4.1" width="389.9" height="40.6" fill="rgb(222,0,10)" fill-opacity="0.4" stroke="#000" stroke-opacity="0.4" stroke-width="1.4"/>
<rect x="431.4" y="51.6" width="282.9" height="42.3" fill="rgb(8,0,255)" fill-opacity="0.4" stroke="#000" stroke-opacity="0.4" stroke-width="1.4"/>
<rect x="909.0" y="3.9" width="279.8" height="41.2" fill="rgb(180,195,0)" fill-opacity="0.4" stroke="#000" stroke-opacity="0.4" stroke-width="1.4"/>
<rect x="966.0" y="51.5" width="234.6" height="42.7" fill="rgb(128,0,140)" fill-opacity="0.4" stroke="#000" stroke-opacity="0.4" stroke-width="1.4"/>
<rect x="1527.7" y="3.9" width="116.1" height="40.7" fill="rgb(40,215,200)" fill-opacity="0.4" stroke="#000" stroke-opacity="0.4" stroke-width="1.4"/>
<g fill="#0a0a0a" stroke="#000" stroke-opacity="0.35" stroke-width="0.80">
<text transform="translate(173.8,79.1) scale(0.992,1)" font-size="24.5" text-anchor="start">Get box</text>
<text transform="translate(325.7,31.7) scale(1.011,1)" font-size="24.5" text-anchor="start">Interact with Traffic_light_butn</text>
<text transform="translate(439.0,78.7) scale(0.997,1)" font-size="24.5" text-anchor="start">Go opposite_sidewalk</text>
<text transform="translate(915.5,32.1) scale(1.010,1)" font-size="24.5" text-anchor="start">Place box in trashcan</text>
<text transform="translate(973.5,81.0) scale(1.004,1)" font-size="24.5" text-anchor="start">Go start_sidewalk</text>
<text transform="translate(1535.6,32.2) scale(1.006,1)" font-size="24.5" text-anchor="start">The end</text>
</g>
<g clip-path="url(#clip1)">
<rect x="176.3" y="607.2" width="151.9" height="443.8" fill="rgb(229,245,231)"/>
<rect x="328.2" y="607.2" width="114.0" height="443.8" fill="rgb(248,229,229)"/>
<rect x="442.2" y="607.2" width="474.2" height="443.8" fill="rgb(228,228,253)"/>
<rect x="916.4" y="607.2" width="57.2" height="443.8" fill="rgb(244,250,231)"/>
<rect x="973.6" y="607.2" width="559.9" height="443.8" fill="rgb(237,229,243)"/>
<line x1="176.3" y1="607.2" x2="176.3" y2="1051.0" stroke="#fff" stroke-opacity="0.4" stroke-width="7.4"/>
<line x1="176.3" y1="607.2" x2="176.3" y2="1051.0" stroke="rgb(74,168,62)" stroke-opacity="0.4" stroke-width="4.1"/>
<line x1="176.3" y1="607.2" x2="176.3" y2="1051.0" stroke="rgb(74,168,62)" stroke-width="2.8"/>
<line x1="328.2" y1="607.2" x2="328.2" y2="1051.0" stroke="#fff" stroke-opacity="0.4" stroke-width="7.4"/>
<line x1="328.2" y1="607.2" x2="328.2" y2="1051.0" stroke="rgb(255,42,42)" stroke-opacity="0.4" stroke-width="4.1"/>
<line x1="328.2" y1="607.2" x2="328.2" y2="1051.0" stroke="rgb(255,42,42)" stroke-width="2.8"/>
<line x1="442.2" y1="607.2" x2="442.2" y2="1051.0" stroke="#fff" stroke-opacity="0.4" stroke-width="7.4"/>
<line x1="442.2" y1="607.2" x2="442.2" y2="1051.0" stroke="rgb(38,22,255)" stroke-opacity="0.4" stroke-width="4.1"/>
<line x1="442.2" y1="607.2" x2="442.2" y2="1051.0" stroke="rgb(38,22,255)" stroke-width="2.8"/>
<line x1="916.4" y1="607.2" x2="916.4" y2="1051.0" stroke="#fff" stroke-opacity="0.4" stroke-width="7.4"/>
<line x1="916.4" y1="607.2" x2="916.4" y2="1051.0" stroke="rgb(196,210,56)" stroke-opacity="0.4" stroke-width="4.1"/>
<line x1="916.4" y1="607.2" x2="916.4" y2="1051.0" stroke="rgb(196,210,56)" stroke-width="2.8"/>
<line x1="973.6" y1="607.2" x2="973.6" y2="1051.0" stroke="#fff" stroke-opacity="0.4" stroke-width="7.4"/>
<line x1="973.6" y1="607.2" x2="973.6" y2="1051.0" stroke="rgb(146,44,160)" stroke-opacity="0.4" stroke-width="4.1"/>
<line x1="973.6" y1="607.2" x2="973.6" y2="1051.0" stroke="rgb(146,44,160)" stroke-width="2.8"/>
<line x1="1533.5" y1="607.2" x2="1533.5" y2="1051.0" stroke="#fff" stroke-opacity="0.4" stroke-width="7.4"/>
<line x1="1533.5" y1="607.2" x2="1533.5" y2="1051.0" stroke="rgb(98,226,212)" stroke-opacity="0.4" stroke-width="4.1"/>
<line x1="1533.5" y1="607.2" x2="1533.5" y2="1051.0" stroke="rgb(98,226,212)" stroke-width="2.8"/>
<defs><path id="cv1" d="M173.6,858.2 L174.5,858.2 L175.4,858.2 L176.3,858.2 L177.2,858.1 L178.1,858.1 L179.1,858.1 L180.0,858.1 L180.9,858.1 L181.8,858.1 L182.7,858.1 L183.6,858.1 L184.5,858.0 L185.4,858.0 L186.3,858.0 L187.2,858.0 L188.1,858.0 L189.1,858.0 L190.0,858.0 L190.9,857.9 L191.8,857.9 L192.7,857.9 L193.6,857.9 L194.5,857.9 L195.4,857.9 L196.3,857.9 L197.2,857.9 L198.1,857.8 L199.0,857.8 L200.0,857.8 L200.9,857.8 L201.8,857.8 L202.7,857.8 L203.6,857.8 L204.5,857.7 L205.4,857.7 L206.3,857.7 L207.2,857.7 L208.1,857.7 L209.0,857.7 L210.0,857.7 L210.9,857.7 L211.8,857.6 L212.7,857.6 L213.6,857.6 L214.5,857.6 L215.4,857.5 L216.3,857.4 L217.2,857.3 L218.2,856.3 L219.1,857.8 L220.0,855.7 L220.9,858.2 L221.8,856.0 L222.7,858.3 L223.6,857.8 L224.5,860.2 L225.4,858.2 L226.3,860.1 L227.3,859.1 L228.2,860.8 L229.1,858.7 L230.0,860.1 L230.9,857.8 L231.8,859.8 L232.7,857.7 L233.6,859.4 L234.6,857.7 L235.5,859.2 L236.4,857.3 L237.3,859.3 L238.2,856.4 L239.1,858.0 L240.0,855.4 L240.9,858.2 L241.8,856.1 L242.7,858.9 L243.6,856.8 L244.5,859.1 L245.4,857.6 L246.3,860.1 L247.3,857.8 L248.2,860.2 L249.1,858.2 L250.0,859.3 L250.9,857.0 L251.8,858.7 L252.7,856.3 L253.6,858.3 L254.5,856.9 L255.5,859.2 L256.4,857.2 L257.3,858.4 L258.2,854.3 L259.1,855.9 L260.0,854.9 L260.9,858.8 L261.8,858.4 L262.7,861.0 L263.6,859.7 L264.5,861.5 L265.4,859.1 L266.4,859.9 L267.3,856.6 L268.2,857.7 L269.1,855.5 L270.0,857.9 L270.9,855.5 L271.8,858.3 L272.7,857.6 L273.6,860.6 L274.4,859.4 L275.2,863.9 L276.0,863.7 L277.1,861.6 L278.2,857.9 L279.1,858.6 L280.0,856.7 L280.9,857.8 L281.8,855.5 L282.7,858.0 L283.6,856.0 L284.6,858.3 L285.5,856.3 L286.4,858.7 L287.3,857.7 L288.2,859.4 L289.1,858.4 L290.0,859.5 L290.9,857.7 L291.8,858.6 L292.7,856.2 L293.6,858.4 L294.5,857.5 L295.5,860.1 L296.4,858.1 L297.3,858.5 L298.2,855.3 L299.1,856.3 L300.0,853.0 L300.9,851.1 L301.8,852.9 L302.7,855.8 L303.6,853.8 L304.6,854.5 L305.5,852.0 L306.4,853.5 L307.3,851.4 L308.2,853.1 L309.1,852.1 L310.0,854.3 L310.9,853.9 L311.8,856.2 L312.7,854.1 L313.6,856.7 L314.5,855.5 L315.4,858.4 L316.4,856.3 L317.3,859.3 L318.2,857.7 L319.1,860.2 L320.0,857.7 L320.9,860.6 L321.8,858.4 L322.7,860.8 L323.6,858.5 L324.5,860.7 L325.5,858.8 L326.4,860.0 L327.3,858.4 L328.2,859.1 L329.1,856.3 L330.0,857.8 L330.9,854.9 L331.8,858.3 L332.7,856.0 L333.6,858.5 L334.5,857.7 L335.4,860.0 L336.4,859.1 L337.3,861.1 L338.2,858.2 L339.1,857.9 L340.0,854.2 L340.9,858.7 L341.8,858.0 L342.9,862.3 L344.0,861.8 L344.8,862.0 L345.6,858.4 L346.4,859.5 L347.3,856.8 L348.2,857.8 L349.1,855.1 L350.0,856.2 L350.9,854.8 L351.8,857.0 L352.7,855.2 L353.6,857.2 L354.5,855.6 L355.4,857.0 L356.3,854.7 L357.2,856.8 L358.2,854.7 L359.1,857.0 L360.0,854.2 L360.9,856.3 L361.8,854.4 L362.8,855.7 L363.7,853.5 L364.6,855.4 L365.5,853.4 L366.4,856.3 L367.3,856.1 L368.2,858.9 L369.1,861.5 L370.0,865.8 L370.9,862.5 L371.8,860.2 L372.7,858.4 L373.6,859.5 L374.5,856.0 L375.4,859.1 L376.4,857.9 L377.3,860.5 L378.2,857.4 L379.1,857.9 L380.0,854.7 L380.9,856.3 L381.8,853.7 L382.7,855.7 L383.6,854.2 L384.6,856.4 L385.5,855.4 L386.4,856.5 L387.3,853.3 L388.2,854.2 L389.1,850.1 L390.0,851.6 L390.9,847.9 L391.8,851.0 L392.7,849.6 L393.6,852.1 L394.5,852.1 L395.5,855.5 L396.4,855.5 L397.3,860.5 L398.2,863.9 L399.1,868.6 L399.9,871.5 L400.7,875.8 L401.5,878.9 L402.6,880.0 L403.6,877.4 L404.6,872.5 L405.5,866.1 L406.4,863.0 L407.3,858.9 L408.2,859.9 L409.1,857.6 L410.0,858.8 L410.9,857.6 L411.8,860.7 L412.7,858.6 L413.6,867.1 L414.5,873.4 L415.2,872.9 L416.0,868.6 L417.3,855.7 L418.2,850.8 L419.1,846.6 L420.0,843.5 L420.9,841.2 L421.8,836.2 L422.7,832.0 L423.6,827.9 L424.5,824.8 L425.3,822.2 L426.1,822.5 L426.9,818.5 L428.0,823.2 L429.1,823.9 L430.0,831.2 L430.9,837.1 L431.8,846.7 L432.7,855.3 L433.6,863.9 L434.5,871.5 L435.4,877.4 L436.4,882.5 L437.3,884.9 L438.2,885.0 L439.1,888.2 L440.0,887.5 L440.9,891.0 L442.2,894.2 L443.1,889.8 L444.0,884.3 L445.0,873.9 L446.0,862.3 L446.9,854.9 L447.8,846.3 L448.9,842.2 L450.0,837.1 L450.9,840.2 L451.8,842.4 L452.7,844.7 L453.6,843.3 L454.6,851.1 L455.5,857.1 L456.4,859.9 L457.3,859.9 L458.2,855.6 L459.1,849.7 L460.0,849.7 L460.9,844.9 L461.6,852.9 L462.4,859.0 L463.3,863.9 L464.2,868.0 L465.1,871.2 L466.0,870.6 L466.9,869.4 L467.8,866.2 L468.9,861.3 L470.0,855.2 L471.1,851.3 L472.2,846.0 L473.0,844.2 L473.7,841.3 L474.5,839.4 L475.4,835.5 L476.4,832.8 L477.3,828.8 L478.2,833.4 L479.1,837.1 L480.0,844.0 L480.9,849.9 L481.8,856.7 L482.7,862.4 L483.6,864.7 L484.5,864.6 L485.4,867.2 L486.4,866.0 L487.3,867.9 L488.2,867.1 L489.1,870.0 L490.0,865.6 L490.9,863.0 L491.8,860.5 L492.7,860.3 L493.6,857.3 L494.6,857.9 L495.5,855.3 L496.4,858.3 L497.3,857.3 L498.2,861.1 L499.1,859.5 L500.0,861.9 L500.9,860.5 L501.8,862.4 L502.7,860.5 L503.6,861.2 L504.6,858.7 L505.5,860.3 L506.4,858.2 L507.3,860.5 L508.2,858.8 L509.1,864.0 L510.0,866.9 L510.9,863.9 L511.8,859.8 L512.7,858.8 L513.6,854.4 L514.5,855.9 L515.5,853.6 L516.4,855.9 L517.3,854.6 L518.2,857.0 L519.1,855.1 L520.0,856.3 L520.9,853.8 L521.8,854.4 L522.7,852.7 L523.6,854.2 L524.6,851.7 L525.5,854.1 L526.4,851.8 L527.3,854.2 L528.2,852.6 L529.1,854.9 L530.0,848.8 L530.9,844.7 L532.2,853.4 L533.1,857.0 L534.0,859.8 L534.8,857.8 L535.6,855.0 L536.4,852.9 L537.3,851.9 L538.2,854.4 L539.1,852.8 L540.0,856.0 L540.9,856.0 L541.8,859.6 L542.7,857.7 L543.6,860.8 L544.5,858.9 L545.4,859.9 L546.4,857.3 L547.3,859.2 L548.2,856.8 L549.1,858.2 L550.0,855.6 L550.9,857.5 L551.8,855.3 L552.7,856.8 L553.6,854.7 L554.6,856.1 L555.5,853.5 L556.4,855.6 L557.3,854.7 L558.2,856.9 L559.1,855.0 L560.0,857.1 L560.9,854.5 L561.8,854.8 L562.7,852.5 L563.6,855.3 L564.5,853.7 L565.5,857.2 L566.4,855.2 L567.3,858.0 L568.2,856.4 L569.1,858.5 L570.0,856.6 L570.9,859.7 L571.8,857.8 L572.7,860.5 L573.6,858.2 L574.5,861.3 L575.4,859.1 L576.4,860.6 L577.3,857.9 L578.2,859.8 L579.1,857.9 L580.0,860.3 L580.9,858.7 L581.8,860.5 L582.7,858.2 L583.6,860.5 L584.6,858.1 L585.5,858.8 L586.4,855.3 L587.3,853.0 L588.2,855.6 L589.1,859.3 L590.0,858.0 L590.9,859.7 L591.8,857.1 L592.7,859.6 L593.6,857.7 L594.5,860.6 L595.5,858.1 L596.4,860.5 L597.3,858.4 L598.2,860.0 L599.1,857.3 L600.0,858.9 L600.9,857.7 L601.8,860.4 L602.7,858.9 L603.6,861.7 L604.5,858.4 L605.5,859.7 L606.4,856.9 L607.3,857.4 L608.2,855.1 L609.1,857.4 L610.0,855.1 L610.9,856.5 L611.8,854.5 L612.7,856.8 L613.6,855.1 L614.6,857.3 L615.5,855.9 L616.4,856.8 L617.3,854.2 L618.2,855.6 L619.1,853.6 L620.0,854.2 L620.9,853.6 L621.8,856.9 L622.7,856.2 L623.6,858.3 L624.5,855.8 L625.5,856.9 L626.4,854.6 L627.3,858.1 L628.2,860.0 L629.1,863.0 L630.0,860.0 L630.9,860.5 L631.8,856.5 L632.7,857.9 L633.6,855.3 L634.6,856.6 L635.5,853.9 L636.4,856.4 L637.3,854.0 L638.2,857.2 L639.1,855.1 L640.0,857.0 L640.9,855.3 L641.8,856.6 L642.7,854.5 L643.6,855.1 L644.6,852.2 L645.5,853.2 L646.4,852.9 L647.3,856.3 L648.2,855.9 L649.1,857.9 L650.0,855.8 L650.9,857.7 L651.8,855.0 L652.7,856.7 L653.6,854.6 L654.6,856.6 L655.5,853.8 L656.4,855.7 L657.3,853.9 L658.2,856.5 L659.1,855.5 L660.0,858.0 L660.9,856.4 L661.8,858.3 L662.7,856.1 L663.6,857.7 L664.5,854.2 L665.5,855.6 L666.4,853.6 L667.3,855.0 L668.2,853.2 L669.1,855.5 L670.0,853.6 L670.9,856.2 L671.8,854.6 L672.7,857.2 L673.7,855.6 L674.6,857.9 L675.5,856.5 L676.4,857.9 L677.3,855.7 L678.2,858.1 L679.1,855.5 L680.0,857.5 L680.9,856.0 L681.8,858.0 L682.7,856.6 L683.6,859.0 L684.5,857.0 L685.4,858.8 L686.3,856.4 L687.3,858.9 L688.2,856.0 L689.1,858.5 L690.0,857.1 L690.9,859.3 L691.8,857.5 L692.7,860.1 L693.6,859.2 L694.5,861.9 L695.5,859.4 L696.4,862.7 L697.3,860.9 L698.2,861.9 L699.1,859.1 L700.0,859.9 L700.9,862.5 L701.8,866.6 L702.7,863.9 L703.6,862.2 L704.5,857.5 L705.5,853.9 L706.4,850.6 L707.3,848.6 L708.2,846.1 L709.1,848.3 L710.0,845.6 L710.9,849.7 L711.8,852.4 L712.7,853.9 L713.6,852.4 L714.5,854.2 L715.4,851.4 L716.4,852.4 L717.3,849.1 L718.2,850.2 L719.1,848.5 L720.0,850.6 L720.9,847.7 L721.8,850.1 L722.7,847.7 L723.6,851.8 L724.6,852.2 L725.5,856.8 L726.5,859.4 L727.6,863.7 L728.4,860.7 L729.2,858.4 L730.0,855.3 L730.8,854.7 L731.6,851.5 L732.4,852.2 L733.5,849.8 L734.5,850.9 L735.4,852.1 L736.4,855.0 L737.3,857.1 L738.2,860.3 L739.1,858.9 L740.0,862.7 L740.9,860.9 L741.8,863.8 L742.7,861.9 L743.6,864.9 L744.5,861.6 L745.5,862.2 L746.4,859.0 L747.3,861.6 L748.2,859.5 L749.1,862.0 L750.0,858.6 L750.9,858.3 L751.8,854.7 L752.6,852.8 L753.4,849.2 L754.2,846.6 L755.1,843.3 L756.0,843.4 L756.9,846.1 L757.8,850.4 L758.8,851.3 L759.9,855.5 L760.9,855.4 L761.8,859.4 L762.7,859.3 L763.6,862.9 L764.5,864.3 L765.5,867.6 L766.4,869.7 L767.2,867.9 L767.9,864.8 L768.7,863.0 L769.6,858.2 L770.5,854.7 L771.6,852.5 L772.7,854.0 L773.8,855.5 L774.9,859.3 L775.7,858.5 L776.5,861.2 L777.3,859.3 L778.2,859.7 L779.1,857.1 L780.0,858.2 L780.9,857.3 L781.8,859.3 L782.7,857.9 L783.5,856.9 L784.3,854.0 L785.1,852.0 L786.2,849.3 L787.3,849.5 L788.2,845.9 L789.1,847.1 L790.0,844.7 L790.8,848.3 L791.6,847.0 L792.4,850.5 L793.5,850.4 L794.5,853.4 L795.4,852.9 L796.4,855.6 L797.3,854.7 L798.1,858.2 L798.8,859.9 L799.6,862.9 L800.5,862.0 L801.3,864.6 L802.2,862.3 L803.2,863.1 L804.1,860.5 L805.1,860.8 L806.1,858.1 L807.2,860.0 L808.2,856.9 L809.2,857.9 L810.3,855.3 L811.3,856.8 L812.3,854.7 L813.2,858.1 L814.2,856.4 L815.3,855.6 L816.4,851.3 L817.5,855.8 L818.5,857.9 L819.3,854.1 L820.1,849.6 L820.9,845.7 L821.7,849.2 L822.5,853.6 L823.3,857.0 L824.4,855.8 L825.5,852.0 L826.5,856.0 L827.6,855.3 L828.6,857.6 L829.5,855.1 L830.5,857.0 L831.4,856.4 L832.2,861.0 L833.1,861.1 L834.1,864.4 L835.0,866.3 L836.0,869.4 L836.8,866.6 L837.7,865.0 L838.5,862.3 L839.5,859.9 L840.5,856.4 L841.5,853.9 L842.3,851.6 L843.2,852.9 L844.0,849.4 L844.8,853.7 L845.6,855.5 L846.4,858.3 L847.3,856.8 L848.2,858.1 L849.1,855.7 L850.0,856.1 L850.9,852.0 L851.8,853.2 L852.7,851.8 L853.6,855.3 L854.5,854.2 L855.4,855.7 L856.4,852.7 L857.3,854.7 L858.2,852.0 L859.1,854.5 L860.0,853.9 L860.9,856.7 L861.8,856.3 L862.7,857.4 L863.6,855.1 L864.6,857.1 L865.5,854.8 L866.4,857.1 L867.3,856.4 L868.2,859.0 L869.1,858.6 L870.0,862.3 L870.9,861.9 L871.8,862.0 L872.7,858.2 L873.6,858.4 L874.5,856.4 L875.5,859.1 L876.4,856.8 L877.3,859.4 L878.2,855.7 L879.1,856.5 L880.0,853.3 L880.9,857.4 L881.8,856.1 L882.7,860.1 L883.6,857.7 L884.5,858.5 L885.5,855.8 L886.4,857.3 L887.3,856.1 L888.2,859.2 L889.1,857.2 L890.0,859.7 L890.9,857.6 L891.8,859.0 L892.7,855.6 L893.6,857.2 L894.5,855.7 L895.5,858.3 L896.4,857.1 L897.3,859.2 L898.2,856.0 L899.1,857.5 L900.0,854.7 L900.9,855.4 L901.8,855.2 L902.7,858.2 L903.6,858.3 L904.5,858.0 L905.5,853.9 L906.4,853.5 L907.3,852.3 L908.2,854.4 L909.1,852.4 L910.0,855.6 L910.9,854.6 L911.8,857.2 L912.7,856.6 L913.6,858.8 L914.5,857.8 L915.5,860.2 L916.4,859.0 L917.3,861.5 L918.2,860.4 L919.1,862.7 L920.0,859.8 L920.9,861.3 L921.8,858.1 L922.7,859.4 L923.6,858.0 L924.5,860.2 L925.5,859.0 L926.4,861.7 L927.3,858.8 L928.2,860.6 L929.1,857.9 L930.0,859.4 L930.9,858.0 L931.8,859.9 L932.7,858.4 L933.6,860.6 L934.5,857.9 L935.5,859.8 L936.4,856.8 L937.3,858.4 L938.2,855.6 L939.1,857.3 L940.0,854.4 L940.9,855.9 L941.7,852.1 L942.5,850.4 L943.3,847.9 L944.4,853.9 L945.5,858.9 L946.5,862.5 L947.6,865.3 L948.6,865.0 L949.5,861.3 L950.5,861.0 L951.5,858.0 L952.6,859.3 L953.6,856.8 L954.5,859.5 L955.5,857.9 L956.4,859.7 L957.3,858.5 L958.3,861.5 L959.4,861.4 L960.4,865.9 L961.2,862.2 L961.9,860.6 L962.7,857.9 L963.6,859.0 L964.5,857.5 L965.5,860.3 L966.4,857.6 L967.3,859.6 L968.2,857.3 L969.1,858.5 L970.0,856.5 L970.9,858.8 L971.8,856.9 L972.7,860.0 L973.6,858.5 L974.5,860.2 L975.5,857.6 L976.4,859.7 L977.3,856.7 L978.2,859.0 L979.1,857.2 L980.0,859.5 L980.9,857.7 L981.8,860.2 L982.7,858.0 L983.6,859.5 L984.5,857.9 L985.5,859.2 L986.4,857.6 L987.3,859.5 L988.2,857.2 L989.1,858.5 L990.0,856.9 L990.9,858.9 L991.8,856.9 L992.7,858.5 L993.6,856.7 L994.6,858.0 L995.5,855.6 L996.4,858.4 L997.3,855.7 L998.2,857.4 L999.1,855.9 L1000.0,857.6 L1000.8,855.9 L1001.7,858.9 L1002.5,857.0 L1003.3,859.9 L1004.1,859.0 L1004.9,861.7 L1005.7,858.1 L1006.6,859.7 L1007.4,855.9 L1008.2,858.2 L1009.0,855.7 L1009.8,857.2 L1010.6,855.6 L1011.5,857.1 L1012.3,854.9 L1013.1,857.2 L1013.9,856.6 L1014.7,859.8 L1015.5,858.6 L1016.4,860.8 L1017.2,859.7 L1018.0,862.6 L1018.8,860.2 L1019.6,862.5 L1020.5,859.6 L1021.3,861.7 L1022.1,859.2 L1022.9,861.5 L1023.8,858.8 L1024.6,861.0 L1025.4,858.4 L1026.2,860.4 L1027.0,857.9 L1027.8,859.2 L1028.6,856.9 L1029.4,858.8 L1030.2,856.1 L1031.1,857.0 L1031.9,854.8 L1032.7,856.7 L1033.6,854.2 L1034.4,855.8 L1035.2,853.5 L1036.0,855.6 L1036.8,853.7 L1037.7,854.9 L1038.5,853.0 L1039.3,855.0 L1040.1,853.9 L1040.9,855.9 L1041.7,854.7 L1042.5,858.5 L1043.4,857.6 L1044.2,861.5 L1045.2,865.6 L1046.3,871.5 L1047.3,865.6 L1048.3,860.7 L1049.1,855.0 L1049.9,850.2 L1050.7,849.3 L1051.6,851.9 L1052.4,850.1 L1053.2,849.9 L1054.0,846.9 L1054.8,848.1 L1055.6,845.2 L1056.5,847.0 L1057.3,844.5 L1058.1,846.3 L1058.9,843.6 L1059.7,845.8 L1060.5,844.1 L1061.4,847.5 L1062.2,846.8 L1063.2,850.4 L1064.1,849.5 L1065.0,882.8 L1066.3,880.6 L1067.4,860.8 L1068.7,839.2 L1069.7,835.9 L1070.7,831.7 L1071.8,831.1 L1072.8,826.6 L1073.7,833.7 L1074.5,839.1 L1075.3,860.7 L1075.8,875.0 L1076.9,867.4 L1078.2,860.2 L1079.1,860.0 L1079.9,857.0 L1081.0,867.4 L1082.1,880.1 L1082.8,885.5 L1083.5,889.8 L1084.3,892.7 L1085.1,894.8 L1085.9,898.0 L1086.7,896.7 L1087.5,901.1 L1088.3,902.8 L1089.2,906.5 L1090.0,911.8 L1090.8,918.1 L1092.0,922.4 L1093.0,925.7 L1094.1,925.1 L1094.9,928.5 L1095.7,927.9 L1096.5,930.7 L1097.3,928.6 L1098.2,929.6 L1099.0,906.2 L1099.8,857.6 L1101.1,783.4 L1102.3,742.9 L1103.4,728.6 L1104.7,727.3 L1105.6,728.5 L1106.4,731.7 L1107.7,742.5 L1108.8,757.7 L1110.0,763.8 L1111.3,788.8 L1112.1,794.9 L1112.9,801.8 L1114.2,808.0 L1115.4,824.7 L1116.5,857.0 L1117.5,890.2 L1118.6,914.2 L1119.4,918.1 L1120.3,920.9 L1121.1,922.4 L1121.9,921.2 L1123.1,914.7 L1124.4,889.7 L1125.2,880.5 L1126.0,870.1 L1126.8,865.7 L1127.6,860.2 L1128.9,860.0 L1130.1,865.3 L1130.9,870.7 L1131.7,875.1 L1132.9,880.4 L1134.2,884.0 L1135.5,874.0 L1136.3,869.3 L1137.1,865.8 L1138.1,862.9 L1139.1,862.9 L1140.1,861.8 L1141.1,864.6 L1141.9,861.5 L1142.7,861.1 L1143.5,860.4 L1144.3,863.3 L1145.4,859.8 L1146.5,860.7 L1147.3,858.4 L1148.1,859.5 L1148.9,861.0 L1149.7,863.9 L1150.6,861.2 L1151.4,862.3 L1152.2,858.1 L1153.0,855.6 L1153.8,852.2 L1154.6,850.0 L1155.5,846.7 L1156.3,844.5 L1157.1,841.7 L1157.9,841.5 L1158.7,838.4 L1159.6,840.4 L1160.4,837.1 L1161.7,847.8 L1162.8,863.5 L1164.0,880.6 L1164.8,878.7 L1165.6,881.3 L1166.6,857.0 L1167.7,843.8 L1168.6,841.4 L1169.4,842.3 L1170.5,841.7 L1171.5,845.1 L1172.5,847.1 L1173.5,850.9 L1174.3,855.3 L1175.1,860.7 L1175.9,867.8 L1176.7,875.6 L1177.6,880.8 L1178.4,887.0 L1179.2,888.8 L1180.0,891.9 L1181.3,881.7 L1182.5,865.7 L1183.3,857.0 L1184.1,849.3 L1184.9,841.5 L1185.7,834.8 L1186.6,831.2 L1187.4,828.9 L1188.2,828.9 L1189.0,831.2 L1190.1,837.3 L1191.2,842.0 L1192.3,845.6 L1193.1,848.8 L1193.9,851.0 L1194.7,854.2 L1195.6,855.1 L1196.4,858.8 L1197.2,854.3 L1198.0,850.9 L1198.8,848.4 L1199.7,853.0 L1200.5,856.3 L1201.3,858.1 L1202.1,856.2 L1202.9,859.6 L1203.7,858.3 L1204.6,860.3 L1205.4,859.5 L1206.2,862.8 L1207.0,864.6 L1207.8,867.4 L1208.6,864.8 L1209.5,865.7 L1210.3,862.4 L1211.3,864.7 L1212.4,862.0 L1213.5,851.0 L1214.7,847.0 L1216.0,855.8 L1217.0,857.0 L1218.0,861.2 L1219.0,863.4 L1220.1,867.4 L1220.9,866.9 L1221.7,869.0 L1222.5,865.2 L1223.4,863.2 L1224.2,860.2 L1225.0,860.6 L1225.8,858.4 L1226.7,860.2 L1227.5,857.1 L1228.3,858.8 L1229.1,856.0 L1229.9,857.8 L1230.7,855.2 L1231.5,856.9 L1232.3,855.1 L1233.2,856.7 L1234.0,854.3 L1234.8,856.9 L1235.7,855.2 L1236.5,857.7 L1237.3,855.4 L1238.1,858.6 L1238.9,858.5 L1239.7,861.2 L1240.5,858.7 L1241.3,859.8 L1242.2,857.7 L1243.0,859.4 L1243.8,857.8 L1244.7,859.7 L1245.5,858.1 L1246.3,859.4 L1247.1,857.1 L1247.9,857.8 L1248.7,855.1 L1249.5,857.7 L1250.4,856.2 L1251.2,859.2 L1252.0,856.3 L1252.8,857.3 L1253.6,854.9 L1254.4,854.6 L1255.3,851.0 L1256.1,851.8 L1256.9,850.3 L1257.7,852.6 L1258.5,851.1 L1259.3,853.5 L1260.2,851.1 L1261.0,853.3 L1261.8,851.0 L1262.7,852.5 L1263.6,850.3 L1264.5,852.1 L1265.4,853.0 L1266.4,856.1 L1267.3,857.8 L1268.2,858.4 L1269.1,856.3 L1270.0,857.4 L1270.9,854.7 L1271.8,857.2 L1272.7,854.4 L1273.6,856.9 L1274.5,854.0 L1275.4,856.2 L1276.4,854.2 L1277.3,855.2 L1278.2,855.2 L1279.1,859.1 L1280.0,859.3 L1280.9,859.2 L1281.8,856.3 L1282.7,856.1 L1283.6,854.3 L1284.6,856.6 L1285.5,854.9 L1286.4,857.4 L1287.3,855.4 L1288.2,858.0 L1289.1,855.6 L1290.0,857.9 L1290.9,855.9 L1291.8,858.2 L1292.7,856.5 L1293.7,859.2 L1294.6,856.7 L1295.5,859.2 L1296.4,856.6 L1297.3,858.3 L1298.2,854.7 L1299.1,856.2 L1300.0,854.7 L1300.9,857.5 L1301.8,856.2 L1302.7,858.2 L1303.6,856.6 L1304.6,859.7 L1305.5,857.8 L1306.4,860.1 L1307.3,857.1 L1308.2,858.5 L1309.1,856.2 L1310.0,857.4 L1310.9,855.6 L1311.8,857.3 L1312.7,854.5 L1313.6,856.7 L1314.5,854.5 L1315.4,857.3 L1316.4,855.9 L1317.3,858.6 L1318.2,856.0 L1319.1,858.1 L1320.0,855.3 L1320.9,857.7 L1321.8,855.6 L1322.7,857.8 L1323.6,856.2 L1324.6,858.8 L1325.5,856.5 L1326.4,859.4 L1327.3,857.0 L1328.2,859.8 L1329.1,858.0 L1330.0,859.5 L1330.9,858.4 L1331.8,858.3 L1332.7,854.6 L1333.6,855.2 L1334.5,854.6 L1335.5,858.0 L1336.4,857.0 L1337.3,858.7 L1338.2,855.2 L1339.1,856.6 L1340.0,853.2 L1340.9,856.0 L1341.8,855.7 L1342.7,858.7 L1343.6,855.1 L1344.6,855.9 L1345.5,852.6 L1346.4,855.6 L1347.3,854.2 L1348.2,857.7 L1349.1,856.8 L1350.0,860.3 L1350.9,860.4 L1351.8,858.8 L1352.7,855.8 L1353.6,853.8 L1354.5,852.5 L1355.5,854.9 L1356.4,853.2 L1357.3,857.5 L1358.2,856.4 L1359.1,860.3 L1360.0,859.1 L1360.9,861.8 L1361.8,860.5 L1362.7,861.7 L1363.6,858.1 L1364.5,858.0 L1365.4,856.3 L1366.3,859.1 L1367.3,857.7 L1368.2,860.6 L1369.1,857.1 L1370.0,858.7 L1370.9,855.7 L1371.8,857.8 L1372.7,856.0 L1373.7,857.9 L1374.6,855.8 L1375.5,858.2 L1376.4,854.9 L1377.3,856.0 L1378.2,853.0 L1379.1,853.3 L1380.0,850.7 L1380.9,852.3 L1381.8,849.5 L1382.7,851.1 L1383.6,847.7 L1384.5,851.4 L1385.5,851.0 L1386.4,854.9 L1387.3,856.1 L1388.2,859.3 L1389.1,861.5 L1390.0,864.6 L1390.9,863.0 L1391.8,865.3 L1392.7,862.7 L1393.6,863.8 L1394.6,861.5 L1395.5,862.9 L1396.2,858.4 L1396.9,855.9 L1397.6,837.1 L1398.3,838.2 L1399.1,835.9 L1400.0,854.9 L1400.8,854.3 L1401.6,858.4 L1402.4,856.8 L1403.4,859.8 L1404.5,858.1 L1405.5,859.7 L1406.4,858.4 L1407.3,860.8 L1408.2,858.4 L1409.1,861.3 L1410.0,857.4 L1410.9,858.4 L1411.8,854.2 L1412.7,852.0 L1413.6,847.9 L1414.5,842.0 L1415.8,840.4 L1416.9,850.3 L1418.0,852.6 L1419.1,855.8 L1420.2,853.8 L1421.3,854.6 L1422.1,851.3 L1422.8,853.2 L1423.6,850.1 L1424.5,854.8 L1425.5,858.0 L1426.4,858.6 L1427.3,855.9 L1428.2,861.7 L1429.1,865.2 L1430.0,865.0 L1430.9,861.2 L1431.8,861.7 L1432.7,860.0 L1433.7,862.0 L1434.6,860.9 L1435.5,863.3 L1436.4,861.6 L1437.3,863.3 L1438.2,862.5 L1439.1,864.9 L1440.2,859.7 L1441.3,856.6 L1442.1,856.6 L1442.8,860.3 L1443.6,859.8 L1444.5,860.3 L1445.5,857.7 L1446.4,858.2 L1447.3,855.3 L1448.2,856.9 L1449.1,853.5 L1450.0,854.6 L1450.9,851.4 L1451.8,852.7 L1452.7,849.4 L1453.6,850.9 L1454.5,848.3 L1455.5,849.6 L1456.4,847.0 L1457.2,850.9 L1457.9,850.5 L1458.7,854.9 L1459.8,856.5 L1460.9,860.3 L1461.8,859.8 L1462.7,863.7 L1463.6,862.9 L1464.5,863.7 L1465.5,859.5 L1466.4,859.5 L1467.3,855.2 L1468.2,855.6 L1469.1,851.9 L1470.0,853.2 L1470.9,850.1 L1471.8,851.9 L1472.7,849.7 L1473.6,850.9 L1474.5,849.6 L1475.5,852.0 L1476.4,850.3 L1477.3,851.0 L1478.2,848.3 L1479.1,848.9 L1480.0,846.2 L1480.9,846.8 L1481.8,848.3 L1482.7,852.1 L1483.6,854.7 L1484.5,858.5 L1485.4,858.6 L1486.4,861.6 L1487.3,860.4 L1488.2,862.8 L1489.1,861.9 L1490.0,863.9 L1490.9,861.8 L1491.8,864.6 L1492.7,862.3 L1493.6,864.3 L1494.6,862.2 L1495.5,864.2 L1496.4,866.1 L1497.3,869.2 L1498.2,867.4 L1499.1,868.7 L1500.0,865.7 L1500.9,863.0 L1501.8,858.8 L1502.7,858.8 L1503.6,855.3 L1504.5,856.0 L1505.4,852.3 L1506.4,853.5 L1507.3,849.4 L1508.2,854.3 L1509.1,856.9 L1510.0,857.4 L1510.9,854.5 L1511.8,855.1 L1512.7,851.5 L1513.6,852.3 L1514.5,847.8 L1515.3,851.9 L1516.1,851.6 L1516.9,854.8 L1517.9,853.2 L1519.0,856.7 L1520.0,855.0 L1520.9,857.6 L1521.8,856.3 L1522.7,858.5 L1523.6,857.2 L1524.6,859.8 L1525.5,858.2 L1526.4,861.1 L1527.3,859.5 L1528.2,862.1 L1529.1,860.5 L1530.0,862.4 L1530.9,859.5 L1531.8,861.2 L1532.7,858.2 L1533.6,859.8 L1534.5,856.8"/></defs>
<g fill="none" stroke-linejoin="round">
<use href="#cv1" stroke="#fff" stroke-opacity="0.5" stroke-width="7.7"/>
<use href="#cv1" stroke="#161916" stroke-opacity="0.4" stroke-width="4.0"/>
<use href="#cv1" stroke="#050505" stroke-opacity="1" stroke-width="2.7"/>
</g>
</g>
<rect x="174.2" y="607.2" width="1362.3" height="443.8" fill="none" stroke="#222" stroke-opacity="0.3" stroke-width="2.6"/>
<rect x="174.2" y="607.2" width="1362.3" height="443.8" fill="none" stroke="#333" stroke-width="1.3"/>
<g stroke="#3c3c3c" stroke-width="1.4">
<line x1="176.8" y1="1051.0" x2="176.8" y2="1060.0"/>
<line x1="457.2" y1="1051.0" x2="457.2" y2="1060.0"/>
<line x1="736.8" y1="1051.0" x2="736.8" y2="1060.0"/>
<line x1="1017.2" y1="1051.0" x2="1017.2" y2="1060.0"/>
<line x1="1297.3" y1="1051.0" x2="1297.3" y2="1060.0"/>
<line x1="168.0" y1="619.3" x2="174.2" y2="619.3"/>
<line x1="168.0" y1="679.0" x2="174.2" y2="679.0"/>
<line x1="168.0" y1="738.7" x2="174.2" y2="738.7"/>
<line x1="168.0" y1="798.5" x2="174.2" y2="798.5"/>
<line x1="168.0" y1="858.2" x2="174.2" y2="858.2"/>
<line x1="168.0" y1="917.9" x2="174.2" y2="917.9"/>
<line x1="168.0" y1="977.6" x2="174.2" y2="977.6"/>
<line x1="168.0" y1="1037.3" x2="174.2" y2="1037.3"/>
</g>
<g fill="#151515" stroke="#000" stroke-opacity="0.3" stroke-width="0.60">
<text transform="translate(177.0,1086.8)" font-size="27.6" text-anchor="middle">0</text>
<text transform="translate(456.7,1086.8)" font-size="27.6" text-anchor="middle">10</text>
<text transform="translate(736.0,1086.8)" font-size="27.6" text-anchor="middle">20</text>
<text transform="translate(1015.0,1086.8)" font-size="27.6" text-anchor="middle">30</text>
<text transform="translate(1295.7,1086.8)" font-size="27.6" text-anchor="middle">40</text>
<text transform="translate(159.0,630.5)" font-size="27.6" text-anchor="end">0.100</text>
<text transform="translate(159.0,690.2)" font-size="27.6" text-anchor="end">0.075</text>
<text transform="translate(159.0,749.9)" font-size="27.6" text-anchor="end">0.050</text>
<text transform="translate(159.0,809.6)" font-size="27.6" text-anchor="end">0.025</text>
<text transform="translate(159.0,869.4)" font-size="27.6" text-anchor="end">0.000</text>
<text transform="translate(159.0,929.1) scale(1.025,1)" font-size="27.6" text-anchor="end">−0.025</text>
<text transform="translate(159.0,988.8) scale(1.025,1)" font-size="27.6" text-anchor="end">−0.050</text>
<text transform="translate(159.0,1048.5) scale(1.025,1)" font-size="27.6" text-anchor="end">−0.075</text>
</g>
<g fill="#151515" stroke="#000" stroke-opacity="0.3" stroke-width="0.2">
<text transform="translate(35.5,833.0) rotate(-90) scale(1.045,1)" font-size="39.2" text-anchor="middle">PhasicEDA (µS)</text>
</g>
<rect x="168.2" y="609.9" width="112.1" height="41.8" fill="rgb(10,160,10)" fill-opacity="0.4" stroke="#000" stroke-opacity="0.4" stroke-width="1.4"/>
<rect x="322.8" y="569.3" width="388.8" height="40.7" fill="rgb(222,0,10)" fill-opacity="0.4" stroke="#000" stroke-opacity="0.4" stroke-width="1.4"/>
<rect x="434.4" y="609.9" width="282.2" height="41.8" fill="rgb(8,0,255)" fill-opacity="0.4" stroke="#000" stroke-opacity="0.4" stroke-width="1.4"/>
<rect x="910.4" y="569.3" width="278.2" height="40.7" fill="rgb(180,195,0)" fill-opacity="0.4" stroke="#000" stroke-opacity="0.4" stroke-width="1.4"/>
<rect x="965.4" y="609.9" width="235.2" height="41.8" fill="rgb(128,0,140)" fill-opacity="0.4" stroke="#000" stroke-opacity="0.4" stroke-width="1.4"/>
<rect x="1525.9" y="568.5" width="116.3" height="42.8" fill="rgb(40,215,200)" fill-opacity="0.4" stroke="#000" stroke-opacity="0.4" stroke-width="1.4"/>
<g fill="#0a0a0a" stroke="#000" stroke-opacity="0.35" stroke-width="0.80">
<text transform="translate(175.9,638.3) scale(0.992,1)" font-size="24.5" text-anchor="start">Get box</text>
<text transform="translate(326.9,597.2) scale(1.011,1)" font-size="24.5" text-anchor="start">Interact with Traffic_light_butn</text>
<text transform="translate(442.4,638.7) scale(0.997,1)" font-size="24.5" text-anchor="start">Go opposite_sidewalk</text>
<text transform="translate(915.7,597.3) scale(1.010,1)" font-size="24.5" text-anchor="start">Place box in trashcan</text>
<text transform="translate(974.1,640.9) scale(1.004,1)" font-size="24.5" text-anchor="start">Go start_sidewalk</text>
<text transform="translate(1533.3,598.1) scale(1.006,1)" font-size="24.5" text-anchor="start">The end</text>
</g>
<g clip-path="url(#clip2)">
<rect x="170.0" y="1121.3" width="153.8" height="445.7" fill="rgb(229,245,231)"/>
<rect x="323.8" y="1121.3" width="112.0" height="445.7" fill="rgb(248,229,229)"/>
<rect x="435.8" y="1121.3" width="478.9" height="445.7" fill="rgb(228,228,253)"/>
<rect x="914.7" y="1121.3" width="56.7" height="445.7" fill="rgb(244,250,231)"/>
<rect x="971.4" y="1121.3" width="563.6" height="445.7" fill="rgb(237,229,243)"/>
<line x1="170.0" y1="1121.3" x2="170.0" y2="1567.0" stroke="#fff" stroke-opacity="0.4" stroke-width="7.4"/>
<line x1="170.0" y1="1121.3" x2="170.0" y2="1567.0" stroke="rgb(74,168,62)" stroke-opacity="0.4" stroke-width="4.1"/>
<line x1="170.0" y1="1121.3" x2="170.0" y2="1567.0" stroke="rgb(74,168,62)" stroke-width="2.8"/>
<line x1="323.8" y1="1121.3" x2="323.8" y2="1567.0" stroke="#fff" stroke-opacity="0.4" stroke-width="7.4"/>
<line x1="323.8" y1="1121.3" x2="323.8" y2="1567.0" stroke="rgb(255,42,42)" stroke-opacity="0.4" stroke-width="4.1"/>
<line x1="323.8" y1="1121.3" x2="323.8" y2="1567.0" stroke="rgb(255,42,42)" stroke-width="2.8"/>
<line x1="435.8" y1="1121.3" x2="435.8" y2="1567.0" stroke="#fff" stroke-opacity="0.4" stroke-width="7.4"/>
<line x1="435.8" y1="1121.3" x2="435.8" y2="1567.0" stroke="rgb(38,22,255)" stroke-opacity="0.4" stroke-width="4.1"/>
<line x1="435.8" y1="1121.3" x2="435.8" y2="1567.0" stroke="rgb(38,22,255)" stroke-width="2.8"/>
<line x1="914.7" y1="1121.3" x2="914.7" y2="1567.0" stroke="#fff" stroke-opacity="0.4" stroke-width="7.4"/>
<line x1="914.7" y1="1121.3" x2="914.7" y2="1567.0" stroke="rgb(196,210,56)" stroke-opacity="0.4" stroke-width="4.1"/>
<line x1="914.7" y1="1121.3" x2="914.7" y2="1567.0" stroke="rgb(196,210,56)" stroke-width="2.8"/>
<line x1="971.4" y1="1121.3" x2="971.4" y2="1567.0" stroke="#fff" stroke-opacity="0.4" stroke-width="7.4"/>
<line x1="971.4" y1="1121.3" x2="971.4" y2="1567.0" stroke="rgb(146,44,160)" stroke-opacity="0.4" stroke-width="4.1"/>
<line x1="971.4" y1="1121.3" x2="971.4" y2="1567.0" stroke="rgb(146,44,160)" stroke-width="2.8"/>
<line x1="1535.0" y1="1121.3" x2="1535.0" y2="1567.0" stroke="#fff" stroke-opacity="0.4" stroke-width="7.4"/>
<line x1="1535.0" y1="1121.3" x2="1535.0" y2="1567.0" stroke="rgb(98,226,212)" stroke-opacity="0.4" stroke-width="4.1"/>
<line x1="1535.0" y1="1121.3" x2="1535.0" y2="1567.0" stroke="rgb(98,226,212)" stroke-width="2.8"/>
<defs><path id="cv2" d="M167.3,1262.6 C170.9,1262.6 182.6,1262.5 189.1,1262.6 C195.6,1262.7 200.7,1262.9 206.5,1263.2 C212.3,1263.5 218.2,1263.9 224.0,1264.3 C229.8,1264.7 236.7,1265.2 241.5,1265.5 C246.3,1265.8 249.2,1266.1 253.1,1266.1 C257.0,1266.1 260.8,1265.9 264.7,1265.5 C268.6,1265.1 272.5,1264.3 276.4,1263.5 C280.3,1262.7 284.1,1261.6 288.0,1260.8 C291.9,1260.0 295.7,1259.1 299.6,1258.5 C303.5,1257.9 307.4,1257.6 311.3,1257.3 C315.2,1257.0 319.0,1257.1 322.9,1256.8 C326.8,1256.5 330.6,1255.9 334.5,1255.6 C338.4,1255.3 342.8,1255.1 346.2,1255.0 C349.6,1254.9 352.0,1254.8 354.9,1255.0 C357.8,1255.2 360.2,1255.6 363.6,1256.2 C367.0,1256.8 371.4,1257.5 375.3,1258.5 C379.2,1259.5 383.0,1260.8 386.9,1262.0 C390.8,1263.2 395.1,1264.6 398.5,1265.5 C401.9,1266.4 404.9,1266.6 407.3,1267.2 C409.7,1267.8 411.2,1268.2 413.1,1269.3 C415.0,1270.4 417.0,1271.7 418.9,1273.6 C420.8,1275.5 422.8,1278.5 424.7,1280.9 C426.6,1283.3 428.6,1286.1 430.5,1288.2 C432.4,1290.3 434.2,1291.7 436.4,1293.4 C438.6,1295.1 441.2,1297.1 443.6,1298.4 C446.0,1299.7 448.2,1300.2 450.9,1301.3 C453.6,1302.4 456.7,1303.8 459.6,1305.1 C462.5,1306.4 465.5,1307.3 468.4,1309.1 C471.3,1310.9 474.2,1313.6 477.1,1315.8 C480.0,1318.0 482.9,1320.8 485.8,1322.5 C488.7,1324.2 491.6,1325.3 494.5,1326.0 C497.4,1326.7 500.4,1327.0 503.3,1326.9 C506.2,1326.8 508.6,1326.4 512.0,1325.4 C515.4,1324.4 519.7,1322.4 523.6,1320.8 C527.5,1319.2 531.4,1317.3 535.3,1315.8 C539.2,1314.3 542.5,1313.1 546.9,1312.0 C551.3,1310.9 556.6,1309.9 561.5,1309.1 C566.4,1308.3 571.2,1308.1 576.0,1307.1 C580.8,1306.1 585.6,1304.8 590.5,1303.3 C595.4,1301.8 600.2,1300.2 605.1,1298.4 C610.0,1296.6 614.7,1294.2 619.6,1292.5 C624.5,1290.8 629.6,1289.7 634.5,1288.2 C639.4,1286.8 644.2,1285.2 649.1,1283.8 C654.0,1282.3 658.8,1281.2 663.6,1279.5 C668.5,1277.8 673.8,1275.8 678.2,1273.6 C682.6,1271.4 685.9,1268.7 689.8,1266.4 C693.7,1264.1 698.1,1261.3 701.5,1259.7 C704.9,1258.1 707.5,1257.4 710.2,1256.8 C712.9,1256.2 715.1,1256.1 717.5,1256.2 C719.9,1256.3 721.6,1256.5 724.7,1257.6 C727.9,1258.7 732.5,1260.9 736.4,1262.6 C740.3,1264.3 744.1,1266.3 748.0,1267.8 C751.9,1269.2 756.2,1270.6 759.6,1271.3 C763.0,1272.0 765.0,1272.3 768.4,1272.2 C771.8,1272.1 775.6,1271.1 780.0,1270.7 C784.4,1270.3 789.6,1269.7 794.5,1269.6 C799.4,1269.5 804.2,1269.7 809.1,1270.1 C814.0,1270.5 819.2,1271.7 823.6,1272.2 C828.0,1272.7 830.9,1273.0 835.3,1273.1 C839.7,1273.1 844.9,1272.8 849.8,1272.5 C854.6,1272.2 859.5,1271.7 864.4,1271.3 C869.2,1270.9 874.5,1270.3 878.9,1270.1 C883.2,1269.9 886.6,1269.7 890.5,1269.9 C894.4,1270.1 898.3,1270.4 902.2,1271.3 C906.1,1272.2 909.9,1273.8 913.8,1275.1 C917.7,1276.4 921.6,1277.7 925.5,1278.9 C929.4,1280.1 933.2,1281.3 937.1,1282.4 C941.0,1283.5 944.8,1284.5 948.7,1285.3 C952.6,1286.1 956.5,1286.7 960.4,1287.3 C964.3,1287.9 967.6,1288.3 972.0,1289.1 C976.4,1289.9 981.6,1291.0 986.5,1292.0 C991.4,1293.0 996.2,1294.1 1001.1,1295.2 C1006.0,1296.3 1010.8,1297.4 1015.6,1298.4 C1020.5,1299.4 1025.8,1300.1 1030.2,1301.3 C1034.6,1302.5 1037.9,1303.7 1041.8,1305.6 C1045.7,1307.5 1050.1,1310.7 1053.5,1312.9 C1056.9,1315.1 1059.5,1317.0 1062.2,1318.7 C1064.9,1320.4 1067.3,1322.1 1069.5,1323.1 C1071.7,1324.1 1073.4,1324.6 1075.3,1324.5 C1077.2,1324.4 1079.1,1324.7 1081.1,1322.5 C1083.1,1320.3 1085.5,1315.8 1087.5,1311.5 C1089.5,1307.2 1091.4,1301.5 1093.3,1296.9 C1095.2,1292.3 1097.2,1286.8 1099.1,1283.8 C1101.0,1280.8 1103.0,1278.9 1104.9,1278.9 C1106.8,1278.9 1108.8,1280.3 1110.7,1283.8 C1112.6,1287.3 1114.5,1293.7 1116.5,1299.8 C1118.5,1305.9 1120.5,1313.4 1122.4,1320.2 C1124.4,1327.0 1126.3,1334.5 1128.2,1340.5 C1130.1,1346.5 1131.8,1351.4 1134.0,1356.5 C1136.2,1361.6 1138.6,1366.9 1141.3,1371.1 C1144.0,1375.3 1146.8,1378.9 1150.0,1381.9 C1153.2,1385.0 1156.6,1387.2 1160.2,1389.4 C1163.8,1391.6 1167.9,1393.5 1171.8,1394.9 C1175.7,1396.4 1180.1,1396.6 1183.5,1398.1 C1186.9,1399.6 1189.3,1401.7 1192.2,1404.0 C1195.1,1406.3 1198.0,1409.2 1200.9,1411.8 C1203.8,1414.4 1206.7,1417.3 1209.6,1419.7 C1212.5,1422.1 1215.5,1424.7 1218.4,1426.4 C1221.3,1428.1 1224.2,1429.2 1227.1,1429.9 C1230.0,1430.6 1232.9,1430.8 1235.8,1430.7 C1238.7,1430.6 1241.1,1430.4 1244.5,1429.3 C1247.9,1428.2 1251.8,1426.5 1256.2,1424.3 C1260.6,1422.1 1265.9,1418.8 1270.7,1416.2 C1275.5,1413.6 1280.0,1411.2 1285.3,1408.9 C1290.6,1406.6 1296.9,1404.3 1302.7,1402.2 C1308.5,1400.1 1314.4,1398.2 1320.2,1396.4 C1326.0,1394.6 1331.8,1392.9 1337.6,1391.5 C1343.4,1390.1 1349.3,1389.0 1355.1,1388.0 C1360.9,1387.0 1366.7,1386.3 1372.5,1385.6 C1378.3,1384.9 1384.2,1384.4 1390.0,1383.9 C1395.8,1383.4 1401.7,1382.7 1407.5,1382.4 C1413.3,1382.1 1419.1,1382.0 1424.9,1381.9 C1430.7,1381.9 1437.6,1381.9 1442.4,1382.1 C1447.2,1382.3 1450.6,1382.6 1454.0,1383.3 C1457.4,1384.0 1459.8,1385.0 1462.7,1386.5 C1465.6,1388.0 1468.6,1390.0 1471.5,1392.3 C1474.4,1394.6 1477.3,1397.7 1480.2,1400.2 C1483.1,1402.7 1486.0,1405.6 1488.9,1407.5 C1491.8,1409.4 1494.7,1410.8 1497.6,1411.8 C1500.5,1412.8 1503.0,1413.2 1506.4,1413.6 C1509.8,1413.9 1514.1,1414.0 1518.0,1413.9 C1521.9,1413.9 1526.7,1413.5 1529.6,1413.3 C1532.5,1413.0 1534.5,1412.6 1535.5,1412.4"/></defs>
<g fill="none" stroke-linejoin="round">
<use href="#cv2" stroke="#fff" stroke-opacity="0.5" stroke-width="7.4"/>
<use href="#cv2" stroke="#161916" stroke-opacity="0.4" stroke-width="3.7"/>
<use href="#cv2" stroke="#050505" stroke-opacity="1" stroke-width="2.4"/>
</g>
</g>
<rect x="167.5" y="1121.3" width="1370.5" height="445.7" fill="none" stroke="#222" stroke-opacity="0.3" stroke-width="2.6"/>
<rect x="167.5" y="1121.3" width="1370.5" height="445.7" fill="none" stroke="#333" stroke-width="1.3"/>
<g stroke="#3c3c3c" stroke-width="1.4">
<line x1="171.0" y1="1567.0" x2="171.0" y2="1576.0"/>
<line x1="452.0" y1="1567.0" x2="452.0" y2="1576.0"/>
<line x1="733.8" y1="1567.0" x2="733.8" y2="1576.0"/>
<line x1="1016.0" y1="1567.0" x2="1016.0" y2="1576.0"/>
<line x1="1297.0" y1="1567.0" x2="1297.0" y2="1576.0"/>
<line x1="161.3" y1="1156.1" x2="167.5" y2="1156.1"/>
<line x1="161.3" y1="1209.6" x2="167.5" y2="1209.6"/>
<line x1="161.3" y1="1263.1" x2="167.5" y2="1263.1"/>
<line x1="161.3" y1="1316.6" x2="167.5" y2="1316.6"/>
<line x1="161.3" y1="1370.1" x2="167.5" y2="1370.1"/>
<line x1="161.3" y1="1423.6" x2="167.5" y2="1423.6"/>
<line x1="161.3" y1="1477.1" x2="167.5" y2="1477.1"/>
<line x1="161.3" y1="1530.6" x2="167.5" y2="1530.6"/>
</g>
<g fill="#151515" stroke="#000" stroke-opacity="0.3" stroke-width="0.60">
<text transform="translate(171.2,1602.8)" font-size="28.4" text-anchor="middle">0</text>
<text transform="translate(451.5,1602.8)" font-size="28.4" text-anchor="middle">10</text>
<text transform="translate(733.0,1602.8)" font-size="28.4" text-anchor="middle">20</text>
<text transform="translate(1013.8,1602.8)" font-size="28.4" text-anchor="middle">30</text>
<text transform="translate(1295.4,1602.8)" font-size="28.4" text-anchor="middle">40</text>
<text transform="translate(151.5,1167.6)" font-size="28.4" text-anchor="end">2.90</text>
<text transform="translate(151.5,1221.1)" font-size="28.4" text-anchor="end">2.88</text>
<text transform="translate(151.5,1274.6)" font-size="28.4" text-anchor="end">2.86</text>
<text transform="translate(151.5,1328.1)" font-size="28.4" text-anchor="end">2.84</text>
<text transform="translate(151.5,1381.6)" font-size="28.4" text-anchor="end">2.82</text>
<text transform="translate(151.5,1435.1)" font-size="28.4" text-anchor="end">2.80</text>
<text transform="translate(151.5,1488.6)" font-size="28.4" text-anchor="end">2.78</text>
<text transform="translate(151.5,1542.1)" font-size="28.4" text-anchor="end">2.76</text>
</g>
<g fill="#151515" stroke="#000" stroke-opacity="0.3" stroke-width="0.2">
<text transform="translate(69.5,1346.0) rotate(-90) scale(1.045,1)" font-size="39.2" text-anchor="middle">TonicEDA (µS)</text>
</g>
<rect x="163.2" y="1139.7" width="112.4" height="41.0" fill="rgb(10,160,10)" fill-opacity="0.4" stroke="#000" stroke-opacity="0.4" stroke-width="1.4"/>
<rect x="316.0" y="1103.3" width="391.4" height="42.0" fill="rgb(222,0,10)" fill-opacity="0.4" stroke="#000" stroke-opacity="0.4" stroke-width="1.4"/>
<rect x="428.6" y="1139.7" width="284.4" height="40.6" fill="rgb(8,0,255)" fill-opacity="0.4" stroke="#000" stroke-opacity="0.4" stroke-width="1.4"/>
<rect x="907.4" y="1102.9" width="280.2" height="42.4" fill="rgb(180,195,0)" fill-opacity="0.4" stroke="#000" stroke-opacity="0.4" stroke-width="1.4"/>
<rect x="964.4" y="1140.1" width="236.0" height="40.6" fill="rgb(128,0,140)" fill-opacity="0.4" stroke="#000" stroke-opacity="0.4" stroke-width="1.4"/>
<rect x="1527.6" y="1102.5" width="116.4" height="43.0" fill="rgb(40,215,200)" fill-opacity="0.4" stroke="#000" stroke-opacity="0.4" stroke-width="1.4"/>
<g fill="#0a0a0a" stroke="#000" stroke-opacity="0.35" stroke-width="0.80">
<text transform="translate(170.0,1166.9) scale(0.992,1)" font-size="24.5" text-anchor="start">Get box</text>
<text transform="translate(323.2,1132.5) scale(1.011,1)" font-size="24.5" text-anchor="start">Interact with Traffic_light_butn</text>
<text transform="translate(436.2,1167.2) scale(0.997,1)" font-size="24.5" text-anchor="start">Go opposite_sidewalk</text>
<text transform="translate(913.7,1132.1) scale(1.010,1)" font-size="24.5" text-anchor="start">Place box in trashcan</text>
<text transform="translate(972.7,1169.5) scale(1.004,1)" font-size="24.5" text-anchor="start">Go start_sidewalk</text>
<text transform="translate(1535.1,1132.3) scale(1.006,1)" font-size="24.5" text-anchor="start">The end</text>
</g>
<g fill="#151515" stroke="#000" stroke-opacity="0.3" stroke-width="0.3">
<text transform="translate(814.8,1661.0)" font-size="33.2" text-anchor="middle">Time (seconds)</text>
</g>
</g>
</svg>
</body></html>
